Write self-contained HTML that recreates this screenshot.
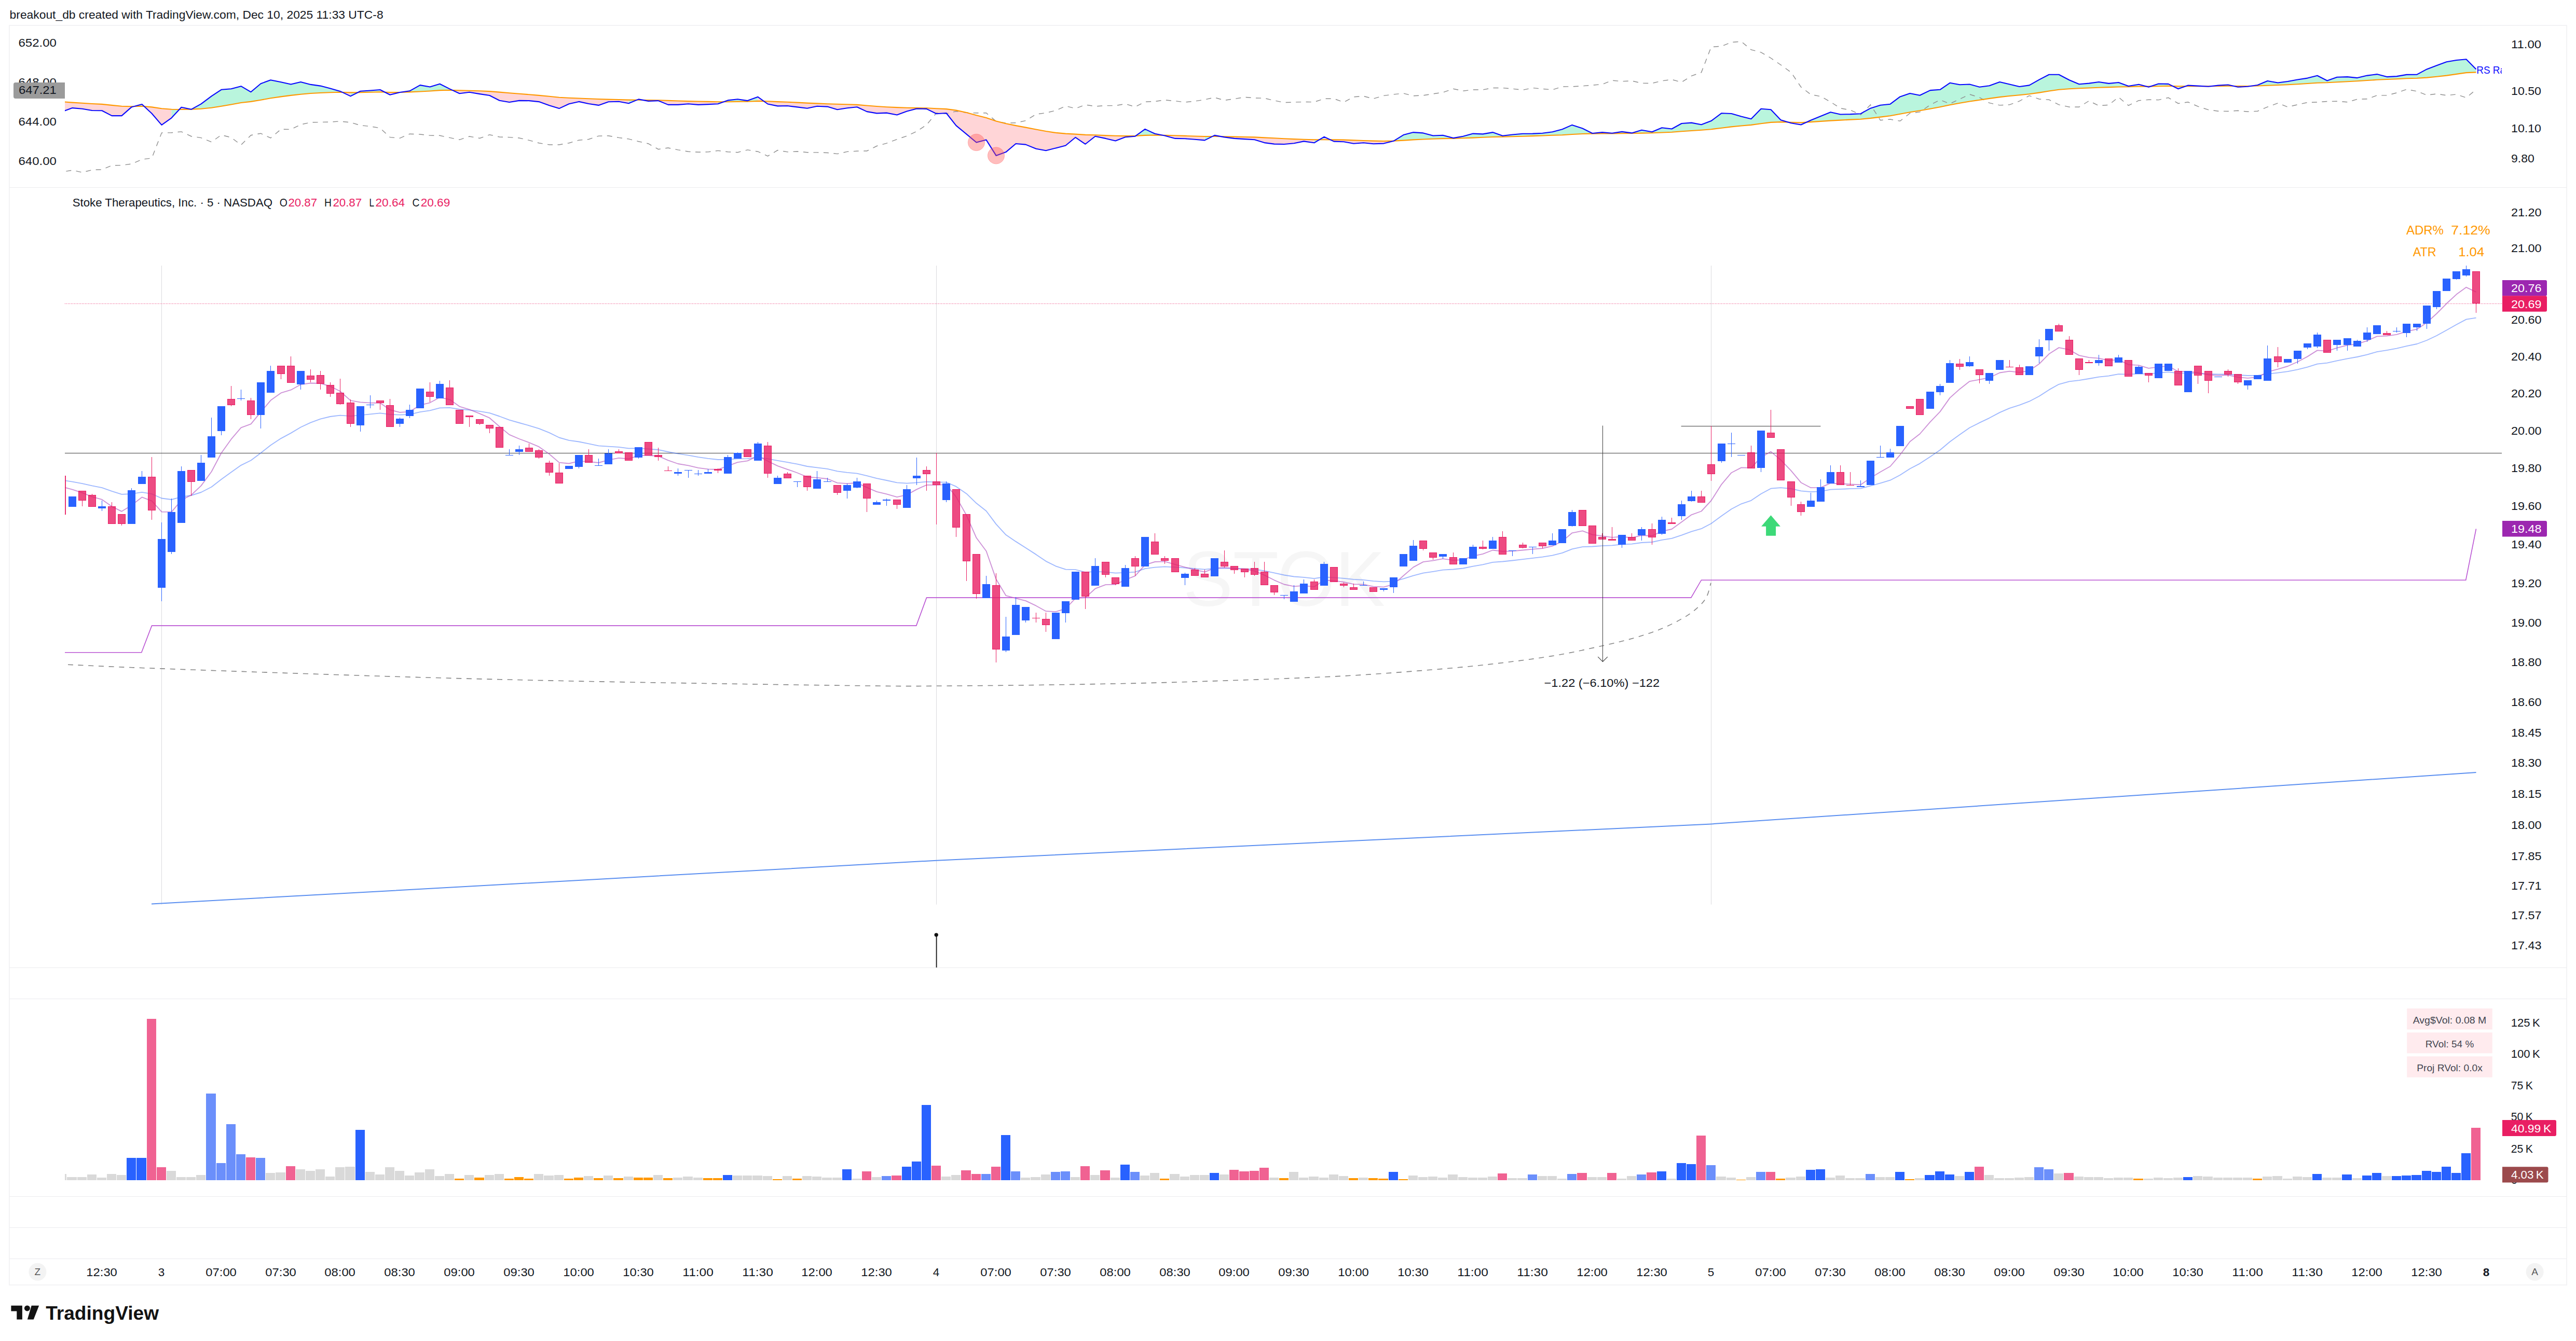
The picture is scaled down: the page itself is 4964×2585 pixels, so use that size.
<!DOCTYPE html>
<html><head><meta charset="utf-8"><title>STOK chart</title>
<style>html,body{margin:0;padding:0;background:#fff}body{width:4964px;height:2585px}svg{display:block}</style>
</head><body>
<svg width="4964" height="2585" viewBox="0 0 4964 2585" font-family='"Liberation Sans", sans-serif'>
<rect width="4964" height="2585" fill="#fff"/>
<defs><clipPath id="cp"><rect x="125" y="49" width="4696" height="2428"/></clipPath></defs>
<text x="18.6" y="36.2" font-size="22" fill="#131722" text-anchor="start" textLength="720.0" lengthAdjust="spacingAndGlyphs">breakout_db created with TradingView.com, Dec 10, 2025 11:33 UTC-8</text>
<rect x="18" y="49" width="4928" height="2428" fill="none" stroke="#f3f3f5" stroke-width="2"/>
<line x1="18" y1="361.5" x2="4946" y2="361.5" stroke="#ebebee" stroke-width="1"/>
<line x1="18" y1="1865.5" x2="4946" y2="1865.5" stroke="#ebebee" stroke-width="1"/>
<line x1="18" y1="1925.5" x2="4946" y2="1925.5" stroke="#ebebee" stroke-width="1"/>
<line x1="18" y1="2306.5" x2="4946" y2="2306.5" stroke="#ebebee" stroke-width="1"/>
<line x1="18" y1="2366.5" x2="4946" y2="2366.5" stroke="#ebebee" stroke-width="1"/>
<line x1="18" y1="2426.5" x2="4946" y2="2426.5" stroke="#ebebee" stroke-width="1"/>
<g clip-path="url(#cp)">
<polygon points="119.5,215.5 139.5,208.1 158.5,209.7 177.5,213.0 196.5,213.2 215.5,223.1 234.5,223.1 253.5,206.4 253.5,205.2 234.5,204.8 215.5,202.9 196.5,200.9 177.5,200.0 158.5,198.8 139.5,197.6 119.5,196.1" fill="#ffd5d7"/>
<polygon points="253.5,206.4 273.5,201.1 273.5,204.8 253.5,205.2" fill="#b9f5dd"/>
<polygon points="273.5,201.1 292.5,218.8 311.5,240.9 330.5,227.3 330.5,210.8 311.5,209.3 292.5,206.4 273.5,204.8" fill="#ffd5d7"/>
<polygon points="330.5,227.3 349.5,206.8 349.5,211.0 330.5,210.8" fill="#b9f5dd"/>
<polygon points="349.5,206.8 368.5,210.8 368.5,210.6 349.5,211.0" fill="#ffd5d7"/>
<polygon points="368.5,210.8 387.5,200.3 407.5,185.4 426.5,172.8 445.5,171.2 464.5,166.2 483.5,177.3 502.5,161.3 521.5,154.2 541.5,158.2 560.5,162.5 579.5,158.0 598.5,162.9 617.5,165.6 636.5,170.5 655.5,175.9 655.5,177.8 636.5,178.2 617.5,179.0 598.5,180.0 579.5,181.7 560.5,183.9 541.5,186.4 521.5,189.3 502.5,192.8 483.5,195.9 464.5,198.0 445.5,201.5 426.5,204.8 407.5,207.7 387.5,209.7 368.5,210.6" fill="#b9f5dd"/>
<polygon points="655.5,175.9 675.5,185.4 675.5,178.4 655.5,177.8" fill="#ffd5d7"/>
<polygon points="675.5,185.4 694.5,175.7 713.5,174.5 732.5,173.0 732.5,177.3 713.5,177.8 694.5,178.2 675.5,178.4" fill="#b9f5dd"/>
<polygon points="732.5,173.0 751.5,182.7 770.5,178.0 770.5,178.0 751.5,178.0 732.5,177.3" fill="#ffd5d7"/>
<polygon points="770.5,178.0 789.5,175.3 809.5,164.1 828.5,167.5 847.5,161.7 866.5,171.4 866.5,173.8 847.5,174.1 828.5,175.5 809.5,176.5 789.5,177.4 770.5,178.0" fill="#b9f5dd"/>
<polygon points="866.5,171.4 885.5,180.2 904.5,177.8 924.5,181.1 943.5,184.0 962.5,193.8 981.5,197.0 1000.5,193.9 1019.5,194.1 1038.5,196.1 1058.5,203.3 1077.5,209.1 1096.5,200.3 1115.5,195.9 1134.5,200.0 1153.5,202.9 1172.5,196.3 1192.5,195.7 1211.5,199.2 1211.5,192.6 1192.5,192.0 1172.5,191.6 1153.5,191.0 1134.5,190.3 1115.5,189.5 1096.5,188.7 1077.5,187.7 1058.5,185.8 1038.5,183.9 1019.5,182.3 1000.5,180.7 981.5,179.2 962.5,177.6 943.5,176.1 924.5,175.3 904.5,174.7 885.5,174.3 866.5,173.8" fill="#ffd5d7"/>
<polygon points="1211.5,199.2 1230.5,191.4 1230.5,192.8 1211.5,192.6" fill="#b9f5dd"/>
<polygon points="1230.5,191.4 1249.5,194.9 1268.5,194.1 1287.5,201.9 1306.5,201.9 1326.5,200.2 1345.5,201.9 1364.5,201.1 1383.5,200.3 1383.5,196.3 1364.5,195.9 1345.5,195.5 1326.5,195.1 1306.5,194.5 1287.5,193.9 1268.5,193.2 1249.5,193.0 1230.5,192.8" fill="#ffd5d7"/>
<polygon points="1383.5,200.3 1402.5,193.4 1421.5,191.2 1440.5,194.1 1460.5,186.8 1460.5,194.9 1440.5,195.7 1421.5,195.9 1402.5,196.3 1383.5,196.3" fill="#b9f5dd"/>
<polygon points="1460.5,186.8 1479.5,200.5 1498.5,204.4 1517.5,204.0 1536.5,206.4 1555.5,208.7 1574.5,204.8 1594.5,205.6 1613.5,211.2 1632.5,208.3 1651.5,206.2 1670.5,215.1 1689.5,218.4 1708.5,217.6 1728.5,221.5 1747.5,214.5 1766.5,209.5 1785.5,209.9 1804.5,219.2 1823.5,218.0 1842.5,242.1 1862.5,258.6 1881.5,274.5 1900.5,269.6 1919.5,299.9 1938.5,293.1 1957.5,277.0 1976.5,278.6 1996.5,286.7 2015.5,290.2 2034.5,285.4 2053.5,280.5 2072.5,264.8 2091.5,277.8 2110.5,262.7 2130.5,266.9 2149.5,271.4 2168.5,264.2 2187.5,262.7 2187.5,261.9 2168.5,262.1 2149.5,261.7 2130.5,261.1 2110.5,260.3 2091.5,259.9 2072.5,258.6 2053.5,257.6 2034.5,255.9 2015.5,253.0 1996.5,249.5 1976.5,245.6 1957.5,242.1 1938.5,238.2 1919.5,233.5 1900.5,226.9 1881.5,222.3 1862.5,217.0 1842.5,212.6 1823.5,210.1 1804.5,209.3 1785.5,208.3 1766.5,208.1 1747.5,207.7 1728.5,207.1 1708.5,206.2 1689.5,205.0 1670.5,203.5 1651.5,201.9 1632.5,201.3 1613.5,200.7 1594.5,200.2 1574.5,199.4 1555.5,198.6 1536.5,197.6 1517.5,196.7 1498.5,196.1 1479.5,195.3 1460.5,194.9" fill="#ffd5d7"/>
<polygon points="2187.5,262.7 2206.5,248.9 2225.5,257.8 2225.5,260.5 2206.5,260.9 2187.5,261.9" fill="#b9f5dd"/>
<polygon points="2225.5,257.8 2244.5,261.5 2264.5,266.9 2283.5,267.3 2302.5,268.7 2321.5,270.4 2321.5,263.0 2302.5,262.5 2283.5,261.9 2264.5,261.3 2244.5,260.7 2225.5,260.5" fill="#ffd5d7"/>
<polygon points="2321.5,270.4 2340.5,260.9 2340.5,263.0 2321.5,263.0" fill="#b9f5dd"/>
<polygon points="2340.5,260.9 2359.5,264.4 2378.5,266.9 2398.5,268.1 2417.5,269.3 2436.5,275.1 2455.5,277.6 2474.5,278.0 2493.5,276.2 2512.5,272.4 2532.5,275.3 2532.5,269.3 2512.5,268.7 2493.5,268.1 2474.5,267.3 2455.5,266.3 2436.5,265.4 2417.5,264.4 2398.5,264.0 2378.5,263.6 2359.5,263.2 2340.5,263.0" fill="#ffd5d7"/>
<polygon points="2532.5,275.3 2551.5,263.8 2551.5,269.3 2532.5,269.3" fill="#b9f5dd"/>
<polygon points="2551.5,263.8 2570.5,272.6 2589.5,273.3 2608.5,276.8 2627.5,275.3 2646.5,277.2 2666.5,276.6 2685.5,271.8 2685.5,271.6 2666.5,272.0 2646.5,271.6 2627.5,271.0 2608.5,270.4 2589.5,269.6 2570.5,269.4 2551.5,269.3" fill="#ffd5d7"/>
<polygon points="2685.5,271.8 2704.5,260.1 2723.5,255.1 2742.5,256.4 2761.5,261.5 2780.5,260.7 2800.5,266.1 2819.5,262.7 2838.5,257.6 2857.5,258.4 2876.5,255.1 2895.5,261.7 2914.5,259.5 2934.5,257.8 2953.5,257.6 2972.5,256.8 2991.5,254.3 3010.5,249.2 3029.5,240.9 3049.5,247.5 3068.5,257.0 3087.5,255.1 3106.5,256.8 3125.5,253.9 3144.5,256.4 3163.5,250.8 3183.5,254.3 3202.5,246.3 3221.5,248.5 3240.5,238.0 3259.5,236.6 3278.5,240.3 3297.5,233.1 3317.5,218.2 3336.5,219.0 3355.5,224.6 3374.5,229.3 3393.5,209.7 3412.5,211.2 3431.5,231.2 3431.5,235.1 3412.5,235.9 3393.5,238.2 3374.5,240.9 3355.5,242.5 3336.5,244.4 3317.5,246.7 3297.5,249.2 3278.5,250.8 3259.5,252.0 3240.5,253.3 3221.5,254.7 3202.5,255.5 3183.5,256.2 3163.5,256.6 3144.5,257.0 3125.5,257.2 3106.5,257.4 3087.5,257.4 3068.5,257.6 3049.5,258.0 3029.5,259.0 3010.5,260.3 2991.5,260.7 2972.5,261.5 2953.5,262.1 2934.5,262.7 2914.5,263.2 2895.5,263.6 2876.5,264.0 2857.5,264.8 2838.5,265.6 2819.5,266.3 2800.5,266.9 2780.5,267.1 2761.5,267.7 2742.5,268.5 2723.5,269.4 2704.5,270.6 2685.5,271.6" fill="#b9f5dd"/>
<polygon points="3431.5,231.2 3451.5,237.2 3470.5,240.5 3470.5,236.2 3451.5,235.7 3431.5,235.1" fill="#ffd5d7"/>
<polygon points="3470.5,240.5 3489.5,231.8 3508.5,224.0 3527.5,216.3 3546.5,220.5 3565.5,220.1 3585.5,219.2 3604.5,208.7 3623.5,202.7 3642.5,200.7 3661.5,186.4 3680.5,180.0 3699.5,183.8 3719.5,174.1 3738.5,172.8 3757.5,159.8 3776.5,163.3 3795.5,162.5 3814.5,167.7 3833.5,165.2 3853.5,158.0 3872.5,162.5 3891.5,167.0 3910.5,164.4 3929.5,153.6 3948.5,143.7 3967.5,143.7 3987.5,154.3 4006.5,162.3 4025.5,160.6 4044.5,158.0 4063.5,160.9 4082.5,159.0 4101.5,166.0 4121.5,162.7 4121.5,166.8 4101.5,167.2 4082.5,167.5 4063.5,168.1 4044.5,168.7 4025.5,169.5 4006.5,170.3 3987.5,171.2 3967.5,172.8 3948.5,175.5 3929.5,178.6 3910.5,181.3 3891.5,183.3 3872.5,185.0 3853.5,187.1 3833.5,189.9 3814.5,192.8 3795.5,195.5 3776.5,198.8 3757.5,202.3 3738.5,206.2 3719.5,209.7 3699.5,213.3 3680.5,216.3 3661.5,219.8 3642.5,223.2 3623.5,225.6 3604.5,227.9 3585.5,229.7 3565.5,230.6 3546.5,231.6 3527.5,232.6 3508.5,233.9 3489.5,235.1 3470.5,236.2" fill="#b9f5dd"/>
<polygon points="4121.5,162.7 4140.5,167.7 4140.5,166.6 4121.5,166.8" fill="#ffd5d7"/>
<polygon points="4140.5,167.7 4159.5,161.5 4178.5,161.9 4178.5,165.8 4159.5,166.2 4140.5,166.6" fill="#b9f5dd"/>
<polygon points="4178.5,161.9 4197.5,171.2 4197.5,166.2 4178.5,165.8" fill="#ffd5d7"/>
<polygon points="4197.5,171.2 4216.5,164.6 4235.5,165.6 4235.5,166.2 4216.5,166.2 4197.5,166.2" fill="#b9f5dd"/>
<polygon points="4235.5,165.6 4255.5,166.8 4255.5,166.2 4235.5,166.2" fill="#ffd5d7"/>
<polygon points="4255.5,166.8 4274.5,164.6 4293.5,163.5 4293.5,165.8 4274.5,166.0 4255.5,166.2" fill="#b9f5dd"/>
<polygon points="4293.5,163.5 4312.5,167.7 4331.5,166.8 4331.5,166.0 4312.5,166.0 4293.5,165.8" fill="#ffd5d7"/>
<polygon points="4331.5,166.8 4350.5,164.0 4369.5,156.0 4389.5,159.5 4408.5,157.0 4427.5,153.5 4446.5,150.6 4465.5,145.8 4484.5,155.5 4503.5,148.8 4523.5,148.1 4542.5,150.1 4561.5,145.6 4580.5,143.1 4599.5,148.1 4618.5,147.1 4637.5,143.9 4657.5,143.6 4676.5,133.4 4695.5,126.2 4714.5,119.3 4733.5,116.0 4752.5,114.3 4771.5,133.4 4771.5,139.4 4752.5,140.1 4733.5,142.9 4714.5,145.6 4695.5,147.8 4676.5,149.6 4657.5,150.8 4637.5,151.3 4618.5,152.3 4599.5,153.0 4580.5,153.8 4561.5,155.0 4542.5,156.3 4523.5,157.3 4503.5,158.3 4484.5,159.3 4465.5,159.8 4446.5,161.0 4427.5,162.2 4408.5,163.2 4389.5,164.0 4369.5,164.7 4350.5,165.5 4331.5,166.0" fill="#b9f5dd"/>
<polyline points="119.5,331.4 139.5,328.1 158.5,332.3 177.5,327.5 196.5,326.9 215.5,318.9 234.5,318.6 253.5,316.0 273.5,307.3 292.5,304.8 311.5,256.1 330.5,255.7 349.5,253.9 368.5,262.7 387.5,265.6 407.5,273.7 426.5,260.1 445.5,265.0 464.5,279.5 483.5,260.7 502.5,257.2 521.5,266.0 541.5,249.1 560.5,249.5 579.5,240.1 598.5,235.9 617.5,235.5 636.5,235.1 655.5,233.9 675.5,235.9 694.5,241.7 713.5,243.6 732.5,246.9 751.5,264.6 770.5,266.3 789.5,258.2 809.5,259.0 828.5,261.1 847.5,261.3 866.5,265.4 885.5,269.3 904.5,263.0 924.5,266.5 943.5,259.7 962.5,264.0 981.5,264.6 1000.5,266.0 1019.5,270.4 1038.5,275.7 1058.5,279.0 1077.5,279.0 1096.5,275.7 1115.5,270.2 1134.5,268.5 1153.5,262.1 1172.5,261.7 1192.5,265.4 1211.5,267.9 1230.5,272.7 1249.5,277.0 1268.5,287.7 1287.5,285.0 1306.5,288.9 1326.5,292.2 1345.5,293.3 1364.5,292.9 1383.5,290.4 1402.5,292.7 1421.5,293.7 1440.5,288.9 1460.5,292.2 1479.5,300.9 1498.5,289.6 1517.5,292.9 1536.5,292.0 1555.5,293.7 1574.5,293.9 1594.5,294.5 1613.5,296.6 1632.5,292.4 1651.5,291.2 1670.5,291.0 1689.5,281.5 1708.5,276.2 1728.5,268.5 1747.5,262.1 1766.5,253.3 1785.5,240.7 1804.5,217.8 1823.5,219.2 1842.5,214.5 1862.5,217.2 1881.5,217.8 1900.5,217.8 1919.5,233.9 1938.5,237.2 1957.5,236.8 1976.5,232.6 1996.5,220.3 2015.5,217.6 2034.5,213.0 2053.5,204.4 2072.5,209.1 2091.5,201.9 2110.5,205.0 2130.5,203.6 2149.5,203.6 2168.5,200.2 2187.5,206.0 2206.5,196.3 2225.5,195.5 2244.5,192.8 2264.5,194.7 2283.5,197.0 2302.5,195.1 2321.5,192.0 2340.5,187.9 2359.5,193.4 2378.5,190.6 2398.5,187.3 2417.5,188.9 2436.5,189.3 2455.5,193.8 2474.5,197.6 2493.5,197.0 2512.5,196.5 2532.5,196.7 2551.5,190.3 2570.5,190.3 2589.5,197.0 2608.5,186.8 2627.5,185.4 2646.5,190.3 2666.5,184.4 2685.5,181.9 2704.5,180.0 2723.5,184.8 2742.5,183.9 2761.5,180.9 2780.5,178.2 2800.5,171.2 2819.5,175.3 2838.5,173.0 2857.5,173.0 2876.5,169.5 2895.5,169.5 2914.5,171.2 2934.5,173.4 2953.5,169.5 2972.5,171.4 2991.5,173.0 3010.5,167.1 3029.5,166.8 3049.5,165.8 3068.5,164.2 3087.5,162.5 3106.5,155.1 3125.5,156.7 3144.5,155.9 3163.5,160.3 3183.5,160.5 3202.5,155.9 3221.5,153.4 3240.5,158.4 3259.5,146.4 3278.5,139.6 3297.5,90.5 3317.5,89.1 3336.5,81.4 3355.5,80.0 3374.5,95.9 3393.5,100.8 3412.5,112.0 3431.5,125.0 3451.5,139.6 3470.5,167.7 3489.5,182.3 3508.5,185.8 3527.5,196.5 3546.5,208.7 3565.5,212.0 3585.5,221.3 3604.5,201.9 3623.5,231.8 3642.5,230.0 3661.5,233.3 3680.5,218.2 3699.5,215.9 3719.5,202.3 3738.5,192.6 3757.5,200.0 3776.5,191.0 3795.5,181.9 3814.5,187.9 3833.5,198.4 3853.5,202.9 3872.5,201.9 3891.5,194.9 3910.5,184.4 3929.5,191.0 3948.5,192.2 3967.5,201.9 3987.5,206.2 4006.5,206.2 4025.5,194.5 4044.5,203.8 4063.5,202.3 4082.5,187.3 4101.5,203.3 4121.5,193.7 4140.5,192.2 4159.5,192.6 4178.5,188.3 4197.5,199.4 4216.5,196.8 4235.5,205.2 4255.5,211.6 4274.5,214.3 4293.5,214.5 4312.5,213.3 4331.5,215.3 4350.5,214.2 4369.5,206.2 4389.5,198.8 4408.5,206.2 4427.5,201.7 4446.5,197.5 4465.5,197.0 4484.5,195.5 4503.5,195.3 4523.5,196.8 4542.5,191.3 4561.5,190.8 4580.5,183.9 4599.5,183.9 4618.5,178.9 4637.5,172.2 4657.5,175.9 4676.5,183.4 4695.5,180.9 4714.5,183.9 4733.5,181.9 4752.5,188.3 4771.5,172.7" fill="none" stroke="#8e8e8e" stroke-width="1.4" stroke-dasharray="10 9.5" stroke-dashoffset="-8"/>
<polyline points="119.5,196.1 139.5,197.6 158.5,198.8 177.5,200.0 196.5,200.9 215.5,202.9 234.5,204.8 253.5,205.2 273.5,204.8 292.5,206.4 311.5,209.3 330.5,210.8 349.5,211.0 368.5,210.6 387.5,209.7 407.5,207.7 426.5,204.8 445.5,201.5 464.5,198.0 483.5,195.9 502.5,192.8 521.5,189.3 541.5,186.4 560.5,183.9 579.5,181.7 598.5,180.0 617.5,179.0 636.5,178.2 655.5,177.8 675.5,178.4 694.5,178.2 713.5,177.8 732.5,177.3 751.5,178.0 770.5,178.0 789.5,177.4 809.5,176.5 828.5,175.5 847.5,174.1 866.5,173.8 885.5,174.3 904.5,174.7 924.5,175.3 943.5,176.1 962.5,177.6 981.5,179.2 1000.5,180.7 1019.5,182.3 1038.5,183.9 1058.5,185.8 1077.5,187.7 1096.5,188.7 1115.5,189.5 1134.5,190.3 1153.5,191.0 1172.5,191.6 1192.5,192.0 1211.5,192.6 1230.5,192.8 1249.5,193.0 1268.5,193.2 1287.5,193.9 1306.5,194.5 1326.5,195.1 1345.5,195.5 1364.5,195.9 1383.5,196.3 1402.5,196.3 1421.5,195.9 1440.5,195.7 1460.5,194.9 1479.5,195.3 1498.5,196.1 1517.5,196.7 1536.5,197.6 1555.5,198.6 1574.5,199.4 1594.5,200.2 1613.5,200.7 1632.5,201.3 1651.5,201.9 1670.5,203.5 1689.5,205.0 1708.5,206.2 1728.5,207.1 1747.5,207.7 1766.5,208.1 1785.5,208.3 1804.5,209.3 1823.5,210.1 1842.5,212.6 1862.5,217.0 1881.5,222.3 1900.5,226.9 1919.5,233.5 1938.5,238.2 1957.5,242.1 1976.5,245.6 1996.5,249.5 2015.5,253.0 2034.5,255.9 2053.5,257.6 2072.5,258.6 2091.5,259.9 2110.5,260.3 2130.5,261.1 2149.5,261.7 2168.5,262.1 2187.5,261.9 2206.5,260.9 2225.5,260.5 2244.5,260.7 2264.5,261.3 2283.5,261.9 2302.5,262.5 2321.5,263.0 2340.5,263.0 2359.5,263.2 2378.5,263.6 2398.5,264.0 2417.5,264.4 2436.5,265.4 2455.5,266.3 2474.5,267.3 2493.5,268.1 2512.5,268.7 2532.5,269.3 2551.5,269.3 2570.5,269.4 2589.5,269.6 2608.5,270.4 2627.5,271.0 2646.5,271.6 2666.5,272.0 2685.5,271.6 2704.5,270.6 2723.5,269.4 2742.5,268.5 2761.5,267.7 2780.5,267.1 2800.5,266.9 2819.5,266.3 2838.5,265.6 2857.5,264.8 2876.5,264.0 2895.5,263.6 2914.5,263.2 2934.5,262.7 2953.5,262.1 2972.5,261.5 2991.5,260.7 3010.5,260.3 3029.5,259.0 3049.5,258.0 3068.5,257.6 3087.5,257.4 3106.5,257.4 3125.5,257.2 3144.5,257.0 3163.5,256.6 3183.5,256.2 3202.5,255.5 3221.5,254.7 3240.5,253.3 3259.5,252.0 3278.5,250.8 3297.5,249.2 3317.5,246.7 3336.5,244.4 3355.5,242.5 3374.5,240.9 3393.5,238.2 3412.5,235.9 3431.5,235.1 3451.5,235.7 3470.5,236.2 3489.5,235.1 3508.5,233.9 3527.5,232.6 3546.5,231.6 3565.5,230.6 3585.5,229.7 3604.5,227.9 3623.5,225.6 3642.5,223.2 3661.5,219.8 3680.5,216.3 3699.5,213.3 3719.5,209.7 3738.5,206.2 3757.5,202.3 3776.5,198.8 3795.5,195.5 3814.5,192.8 3833.5,189.9 3853.5,187.1 3872.5,185.0 3891.5,183.3 3910.5,181.3 3929.5,178.6 3948.5,175.5 3967.5,172.8 3987.5,171.2 4006.5,170.3 4025.5,169.5 4044.5,168.7 4063.5,168.1 4082.5,167.5 4101.5,167.2 4121.5,166.8 4140.5,166.6 4159.5,166.2 4178.5,165.8 4197.5,166.2 4216.5,166.2 4235.5,166.2 4255.5,166.2 4274.5,166.0 4293.5,165.8 4312.5,166.0 4331.5,166.0 4350.5,165.5 4369.5,164.7 4389.5,164.0 4408.5,163.2 4427.5,162.2 4446.5,161.0 4465.5,159.8 4484.5,159.3 4503.5,158.3 4523.5,157.3 4542.5,156.3 4561.5,155.0 4580.5,153.8 4599.5,153.0 4618.5,152.3 4637.5,151.3 4657.5,150.8 4676.5,149.6 4695.5,147.8 4714.5,145.6 4733.5,142.9 4752.5,140.1 4771.5,139.4" fill="none" stroke="#ff9800" stroke-width="2.1" stroke-linejoin="round"/>
<polyline points="119.5,215.5 139.5,208.1 158.5,209.7 177.5,213.0 196.5,213.2 215.5,223.1 234.5,223.1 253.5,206.4 273.5,201.1 292.5,218.8 311.5,240.9 330.5,227.3 349.5,206.8 368.5,210.8 387.5,200.3 407.5,185.4 426.5,172.8 445.5,171.2 464.5,166.2 483.5,177.3 502.5,161.3 521.5,154.2 541.5,158.2 560.5,162.5 579.5,158.0 598.5,162.9 617.5,165.6 636.5,170.5 655.5,175.9 675.5,185.4 694.5,175.7 713.5,174.5 732.5,173.0 751.5,182.7 770.5,178.0 789.5,175.3 809.5,164.1 828.5,167.5 847.5,161.7 866.5,171.4 885.5,180.2 904.5,177.8 924.5,181.1 943.5,184.0 962.5,193.8 981.5,197.0 1000.5,193.9 1019.5,194.1 1038.5,196.1 1058.5,203.3 1077.5,209.1 1096.5,200.3 1115.5,195.9 1134.5,200.0 1153.5,202.9 1172.5,196.3 1192.5,195.7 1211.5,199.2 1230.5,191.4 1249.5,194.9 1268.5,194.1 1287.5,201.9 1306.5,201.9 1326.5,200.2 1345.5,201.9 1364.5,201.1 1383.5,200.3 1402.5,193.4 1421.5,191.2 1440.5,194.1 1460.5,186.8 1479.5,200.5 1498.5,204.4 1517.5,204.0 1536.5,206.4 1555.5,208.7 1574.5,204.8 1594.5,205.6 1613.5,211.2 1632.5,208.3 1651.5,206.2 1670.5,215.1 1689.5,218.4 1708.5,217.6 1728.5,221.5 1747.5,214.5 1766.5,209.5 1785.5,209.9 1804.5,219.2 1823.5,218.0 1842.5,242.1 1862.5,258.6 1881.5,274.5 1900.5,269.6 1919.5,299.9 1938.5,293.1 1957.5,277.0 1976.5,278.6 1996.5,286.7 2015.5,290.2 2034.5,285.4 2053.5,280.5 2072.5,264.8 2091.5,277.8 2110.5,262.7 2130.5,266.9 2149.5,271.4 2168.5,264.2 2187.5,262.7 2206.5,248.9 2225.5,257.8 2244.5,261.5 2264.5,266.9 2283.5,267.3 2302.5,268.7 2321.5,270.4 2340.5,260.9 2359.5,264.4 2378.5,266.9 2398.5,268.1 2417.5,269.3 2436.5,275.1 2455.5,277.6 2474.5,278.0 2493.5,276.2 2512.5,272.4 2532.5,275.3 2551.5,263.8 2570.5,272.6 2589.5,273.3 2608.5,276.8 2627.5,275.3 2646.5,277.2 2666.5,276.6 2685.5,271.8 2704.5,260.1 2723.5,255.1 2742.5,256.4 2761.5,261.5 2780.5,260.7 2800.5,266.1 2819.5,262.7 2838.5,257.6 2857.5,258.4 2876.5,255.1 2895.5,261.7 2914.5,259.5 2934.5,257.8 2953.5,257.6 2972.5,256.8 2991.5,254.3 3010.5,249.2 3029.5,240.9 3049.5,247.5 3068.5,257.0 3087.5,255.1 3106.5,256.8 3125.5,253.9 3144.5,256.4 3163.5,250.8 3183.5,254.3 3202.5,246.3 3221.5,248.5 3240.5,238.0 3259.5,236.6 3278.5,240.3 3297.5,233.1 3317.5,218.2 3336.5,219.0 3355.5,224.6 3374.5,229.3 3393.5,209.7 3412.5,211.2 3431.5,231.2 3451.5,237.2 3470.5,240.5 3489.5,231.8 3508.5,224.0 3527.5,216.3 3546.5,220.5 3565.5,220.1 3585.5,219.2 3604.5,208.7 3623.5,202.7 3642.5,200.7 3661.5,186.4 3680.5,180.0 3699.5,183.8 3719.5,174.1 3738.5,172.8 3757.5,159.8 3776.5,163.3 3795.5,162.5 3814.5,167.7 3833.5,165.2 3853.5,158.0 3872.5,162.5 3891.5,167.0 3910.5,164.4 3929.5,153.6 3948.5,143.7 3967.5,143.7 3987.5,154.3 4006.5,162.3 4025.5,160.6 4044.5,158.0 4063.5,160.9 4082.5,159.0 4101.5,166.0 4121.5,162.7 4140.5,167.7 4159.5,161.5 4178.5,161.9 4197.5,171.2 4216.5,164.6 4235.5,165.6 4255.5,166.8 4274.5,164.6 4293.5,163.5 4312.5,167.7 4331.5,166.8 4350.5,164.0 4369.5,156.0 4389.5,159.5 4408.5,157.0 4427.5,153.5 4446.5,150.6 4465.5,145.8 4484.5,155.5 4503.5,148.8 4523.5,148.1 4542.5,150.1 4561.5,145.6 4580.5,143.1 4599.5,148.1 4618.5,147.1 4637.5,143.9 4657.5,143.6 4676.5,133.4 4695.5,126.2 4714.5,119.3 4733.5,116.0 4752.5,114.3 4771.5,133.4" fill="none" stroke="#0808ff" stroke-width="2.1" stroke-linejoin="round"/>
<circle cx="1881.5" cy="274.5" r="16.2" fill="#ff5252" fill-opacity="0.38" stroke="#ff5252" stroke-opacity="0.3" stroke-width="1"/>
<circle cx="1919.5" cy="299.9" r="16.2" fill="#ff5252" fill-opacity="0.38" stroke="#ff5252" stroke-opacity="0.3" stroke-width="1"/>
<text x="4772.3" y="141.8" font-size="21" fill="#1010ff" text-anchor="start" textLength="55.8" lengthAdjust="spacingAndGlyphs">RS Ra</text>
</g>
<text x="35.5" y="90.1" font-size="22.5" fill="#131722" text-anchor="start" textLength="73.3" lengthAdjust="spacingAndGlyphs">652.00</text>
<text x="35.5" y="165.9" font-size="22.5" fill="#131722" text-anchor="start" textLength="73.3" lengthAdjust="spacingAndGlyphs">648.00</text>
<text x="35.5" y="241.9" font-size="22.5" fill="#131722" text-anchor="start" textLength="73.3" lengthAdjust="spacingAndGlyphs">644.00</text>
<text x="35.5" y="317.7" font-size="22.5" fill="#131722" text-anchor="start" textLength="73.3" lengthAdjust="spacingAndGlyphs">640.00</text>
<path d="M30,159 H125 V190 H30 a4,4 0 0 1 -4,-4 V163 a4,4 0 0 1 4,-4 z" fill="#9b9b9b"/>
<text x="36.0" y="181.4" font-size="22.5" fill="#131722" text-anchor="start" textLength="72.8" lengthAdjust="spacingAndGlyphs">647.21</text>
<text x="4839.0" y="93.0" font-size="22.5" fill="#131722" text-anchor="start" textLength="58.0" lengthAdjust="spacingAndGlyphs">11.00</text>
<text x="4839.0" y="182.5" font-size="22.5" fill="#131722" text-anchor="start" textLength="58.0" lengthAdjust="spacingAndGlyphs">10.50</text>
<text x="4839.0" y="255.0" font-size="22.5" fill="#131722" text-anchor="start" textLength="58.0" lengthAdjust="spacingAndGlyphs">10.10</text>
<text x="4839.0" y="313.3" font-size="22.5" fill="#131722" text-anchor="start" textLength="44.7" lengthAdjust="spacingAndGlyphs">9.80</text>
<g clip-path="url(#cp)">
<text x="2280.0" y="1168.0" font-size="150" fill="#f6f6f6" text-anchor="start" textLength="389.0" lengthAdjust="spacingAndGlyphs">STOK</text>
<line x1="311.5" y1="512" x2="311.5" y2="1743.6" stroke="#dadade" stroke-width="1"/>
<line x1="1804.5" y1="512" x2="1804.5" y2="1743.6" stroke="#dadade" stroke-width="1"/>
<line x1="3297.5" y1="512" x2="3297.5" y2="1743.6" stroke="#dadade" stroke-width="1"/>
<line x1="125" y1="585.5" x2="4821" y2="585.5" stroke="#e91e63" stroke-width="1" stroke-dasharray="1 2"/>
<line x1="125" y1="873.5" x2="4821" y2="873.5" stroke="#3a3a3a" stroke-width="1"/>
<line x1="3239.6" y1="821.5" x2="3508.4" y2="821.5" stroke="#3a3a3a" stroke-width="1"/>
<polyline points="119.5,925.6 139.5,928.6 158.5,932.1 177.5,936.4 196.5,940.2 215.5,946.8 234.5,952.8 253.5,952.0 273.5,948.9 292.5,952.2 311.5,960.5 330.5,963.0 349.5,957.8 368.5,955.0 387.5,949.0 407.5,938.8 426.5,923.9 445.5,910.3 464.5,896.8 483.5,887.5 502.5,873.2 521.5,858.2 541.5,845.1 560.5,834.9 579.5,823.5 598.5,814.7 617.5,807.6 636.5,803.0 655.5,800.6 675.5,802.2 694.5,800.4 713.5,798.4 732.5,796.4 751.5,798.9 770.5,799.7 789.5,798.8 809.5,794.1 828.5,791.3 847.5,786.4 866.5,785.9 885.5,788.9 904.5,790.3 924.5,792.9 943.5,796.1 962.5,802.5 981.5,809.6 1000.5,815.0 1019.5,820.3 1038.5,826.1 1058.5,834.2 1077.5,843.5 1096.5,848.8 1115.5,851.5 1134.5,855.4 1153.5,859.3 1172.5,860.7 1192.5,861.9 1211.5,864.4 1230.5,864.2 1249.5,865.5 1268.5,867.0 1287.5,871.0 1306.5,874.7 1326.5,877.7 1345.5,881.1 1364.5,883.9 1383.5,886.0 1402.5,885.6 1421.5,884.4 1440.5,884.1 1460.5,881.4 1479.5,884.4 1498.5,887.9 1517.5,891.2 1536.5,894.7 1555.5,899.0 1574.5,901.4 1594.5,903.9 1613.5,908.3 1632.5,910.9 1651.5,912.6 1670.5,917.2 1689.5,922.1 1708.5,926.0 1728.5,930.4 1747.5,931.7 1766.5,930.3 1785.5,928.7 1804.5,929.3 1823.5,929.6 1842.5,937.9 1862.5,951.7 1881.5,970.1 1900.5,985.0 1919.5,1010.4 1938.5,1031.1 1957.5,1043.9 1976.5,1056.0 1996.5,1068.9 2015.5,1081.8 2034.5,1091.3 2053.5,1097.7 2072.5,1098.2 2091.5,1103.1 2110.5,1101.9 2130.5,1102.6 2149.5,1104.7 2168.5,1103.8 2187.5,1102.7 2206.5,1096.2 2225.5,1093.6 2244.5,1092.4 2264.5,1093.3 2283.5,1094.6 2302.5,1096.1 2321.5,1097.7 2340.5,1095.7 2359.5,1095.3 2378.5,1095.7 2398.5,1096.3 2417.5,1097.5 2436.5,1100.4 2455.5,1104.4 2474.5,1108.5 2493.5,1111.5 2512.5,1112.8 2532.5,1115.1 2551.5,1112.4 2570.5,1113.3 2589.5,1114.8 2608.5,1116.8 2627.5,1117.9 2646.5,1120.1 2666.5,1121.4 2685.5,1120.6 2704.5,1115.6 2723.5,1109.6 2742.5,1104.6 2761.5,1101.8 2780.5,1098.6 2800.5,1097.5 2819.5,1095.5 2838.5,1091.6 2857.5,1088.3 2876.5,1083.9 2895.5,1082.5 2914.5,1080.5 2934.5,1078.1 2953.5,1075.8 2972.5,1073.6 2991.5,1070.6 3010.5,1065.8 3029.5,1058.3 3049.5,1054.1 3068.5,1053.5 3087.5,1052.2 3106.5,1051.3 3125.5,1049.4 3144.5,1048.7 3163.5,1046.0 3183.5,1045.0 3202.5,1040.9 3221.5,1037.9 3240.5,1031.6 3259.5,1024.6 3278.5,1019.2 3297.5,1009.2 3317.5,994.5 3336.5,981.2 3355.5,971.3 3374.5,964.8 3393.5,952.0 3412.5,941.7 3431.5,940.2 3451.5,942.0 3470.5,946.3 3489.5,948.1 3508.5,947.3 3527.5,943.7 3546.5,942.9 3565.5,942.2 3585.5,941.7 3604.5,936.6 3623.5,931.3 3642.5,925.7 3661.5,915.8 3680.5,903.5 3699.5,893.6 3719.5,880.5 3738.5,867.5 3757.5,851.5 3776.5,837.8 3795.5,824.5 3814.5,814.9 3833.5,805.8 3853.5,795.1 3872.5,786.9 3891.5,780.8 3910.5,773.7 3929.5,763.8 3948.5,751.4 3967.5,740.8 3987.5,735.4 4006.5,733.2 4025.5,730.0 4044.5,726.6 4063.5,724.6 4082.5,721.2 4101.5,721.7 4121.5,720.4 4140.5,720.7 4159.5,718.9 4178.5,717.2 4197.5,719.6 4216.5,719.2 4235.5,719.7 4255.5,721.0 4274.5,721.5 4293.5,721.5 4312.5,723.0 4331.5,724.0 4350.5,723.9 4369.5,720.8 4389.5,718.6 4408.5,716.1 4427.5,712.3 4446.5,707.6 4465.5,701.6 4484.5,699.6 4503.5,695.4 4523.5,691.3 4542.5,688.0 4561.5,683.6 4580.5,678.2 4599.5,675.1 4618.5,671.6 4637.5,667.1 4657.5,663.0 4676.5,656.0 4695.5,647.0 4714.5,636.5 4733.5,625.7 4752.5,615.6 4771.5,612.7" fill="none" stroke="#2962ff" stroke-opacity="0.45" stroke-width="1.85" stroke-linejoin="round"/>
<polyline points="119.5,938.3 139.5,943.7 158.5,949.9 177.5,957.6 196.5,962.9 215.5,976.3 234.5,985.8 253.5,974.1 273.5,958.4 292.5,965.6 311.5,986.6 330.5,986.8 349.5,964.3 368.5,954.2 387.5,936.4 407.5,909.2 426.5,873.2 445.5,846.7 464.5,824.3 483.5,817.3 502.5,794.4 521.5,771.8 541.5,757.4 560.5,751.7 579.5,741.2 598.5,738.5 617.5,739.0 636.5,744.6 655.5,754.3 675.5,772.1 694.5,775.3 713.5,776.7 732.5,776.7 751.5,790.0 770.5,794.9 789.5,793.6 809.5,780.9 828.5,776.3 847.5,766.0 866.5,770.1 885.5,783.6 904.5,789.3 924.5,797.4 943.5,805.7 962.5,822.2 981.5,837.9 1000.5,846.0 1019.5,853.1 1038.5,861.2 1058.5,875.3 1077.5,891.6 1096.5,893.5 1115.5,888.9 1134.5,889.9 1153.5,892.0 1172.5,886.7 1192.5,882.9 1211.5,884.5 1230.5,878.1 1249.5,878.0 1268.5,879.0 1287.5,887.4 1306.5,894.0 1326.5,897.4 1345.5,901.9 1364.5,904.3 1383.5,905.0 1402.5,898.2 1421.5,891.1 1440.5,888.3 1460.5,878.9 1479.5,888.8 1498.5,898.1 1517.5,904.8 1536.5,911.5 1555.5,919.5 1574.5,920.8 1594.5,923.0 1613.5,930.8 1632.5,932.1 1651.5,931.0 1670.5,939.7 1689.5,947.9 1708.5,952.3 1728.5,958.1 1747.5,953.9 1766.5,943.4 1785.5,934.9 1804.5,934.8 1823.5,934.1 1842.5,957.9 1862.5,993.4 1881.5,1036.8 1900.5,1062.3 1919.5,1116.6 1938.5,1148.2 1957.5,1153.4 1976.5,1158.1 1996.5,1167.7 2015.5,1178.2 2034.5,1179.1 2053.5,1173.4 2072.5,1153.1 2091.5,1152.1 2110.5,1134.7 2130.5,1127.2 2149.5,1126.7 2168.5,1117.7 2187.5,1110.2 2206.5,1088.8 2225.5,1083.0 2244.5,1082.3 2264.5,1088.1 2283.5,1093.3 2302.5,1098.2 2321.5,1102.6 2340.5,1095.1 2359.5,1094.1 2378.5,1095.6 2398.5,1097.6 2417.5,1100.7 2436.5,1108.6 2455.5,1118.3 2474.5,1126.5 2493.5,1130.4 2512.5,1128.9 2532.5,1131.1 2551.5,1118.6 2570.5,1119.4 2589.5,1122.0 2608.5,1126.2 2627.5,1126.7 2646.5,1130.7 2666.5,1131.7 2685.5,1126.4 2704.5,1109.8 2723.5,1093.4 2742.5,1083.1 2761.5,1080.7 2780.5,1077.1 2800.5,1080.1 2819.5,1079.0 2838.5,1071.9 2857.5,1067.8 2876.5,1060.5 2895.5,1062.8 2914.5,1062.4 2934.5,1060.5 2953.5,1058.7 2972.5,1057.0 2991.5,1052.7 3010.5,1043.4 3029.5,1027.3 3049.5,1023.4 3068.5,1030.6 3087.5,1033.1 3106.5,1035.8 3125.5,1034.5 3144.5,1036.7 3163.5,1032.0 3183.5,1033.0 3202.5,1024.2 3221.5,1020.0 3240.5,1006.3 3259.5,992.3 3278.5,985.5 3297.5,965.0 3317.5,933.6 3336.5,911.2 3355.5,901.4 3374.5,902.0 3393.5,881.4 3412.5,870.6 3431.5,886.5 3451.5,907.3 3470.5,930.2 3489.5,940.2 3508.5,939.9 3527.5,931.3 3546.5,932.5 3565.5,933.4 3585.5,934.5 3604.5,921.2 3623.5,909.7 3642.5,899.0 3661.5,876.8 3680.5,851.3 3699.5,836.5 3719.5,813.3 3738.5,793.6 3757.5,766.9 3776.5,749.9 3795.5,735.1 3814.5,731.7 3833.5,728.1 3853.5,718.5 3872.5,715.6 3891.5,717.8 3910.5,714.5 3929.5,701.5 3948.5,682.3 3967.5,670.1 3987.5,674.2 4006.5,685.1 4025.5,689.2 4044.5,690.7 4063.5,694.9 4082.5,693.3 4101.5,702.8 4121.5,704.1 4140.5,709.9 4159.5,707.4 4178.5,705.6 4197.5,716.2 4216.5,715.9 4235.5,718.4 4255.5,722.7 4274.5,723.6 4293.5,723.0 4312.5,727.2 4331.5,728.9 4350.5,727.2 4369.5,716.9 4389.5,711.6 4408.5,706.0 4427.5,697.5 4446.5,687.4 4465.5,675.4 4484.5,676.8 4503.5,670.7 4523.5,665.4 4542.5,663.1 4561.5,656.9 4580.5,648.4 4599.5,647.6 4618.5,644.9 4637.5,638.9 4657.5,634.7 4676.5,621.7 4695.5,604.5 4714.5,585.3 4733.5,567.6 4752.5,553.8 4771.5,562.8" fill="none" stroke="#ab47bc" stroke-opacity="0.6" stroke-width="1.85" stroke-linejoin="round"/>
<polyline points="125.0,1257.7 272.7,1257.7 292.5,1206.1 1765.7,1206.1 1785.5,1152.1 3258.7,1152.1 3278.5,1118.2 4751.7,1118.2 4771.5,1019.5" fill="none" stroke="#ba55d3" stroke-width="1.6"/>
<path d="M131.0,1281.2 C161.1,1282.5 209.2,1285.2 311.4,1288.9 C413.6,1292.7 618.5,1299.8 744.4,1303.7 C870.3,1307.6 959.2,1309.7 1066.6,1312.1 C1174.0,1314.5 1283.2,1316.2 1388.8,1317.9 C1494.4,1319.6 1630.7,1321.6 1700.0,1322.3 C1769.3,1323.0 1761.4,1322.5 1804.4,1322.3 C1847.4,1322.1 1910.8,1321.5 1957.8,1321.0 C2004.8,1320.5 2043.6,1319.8 2086.6,1319.1 C2129.5,1318.3 2172.5,1317.6 2215.5,1316.5 C2258.5,1315.4 2301.4,1314.0 2344.4,1312.6 C2387.4,1311.2 2430.3,1309.8 2473.3,1308.1 C2516.3,1306.4 2559.2,1304.8 2602.2,1302.3 C2645.2,1299.8 2688.1,1296.7 2731.1,1293.3 C2774.1,1289.9 2817.1,1286.4 2860.0,1281.7 C2902.9,1277.0 2950.9,1271.0 2988.8,1264.9 C3026.7,1258.8 3060.6,1250.9 3087.4,1245.0 C3114.2,1239.1 3130.9,1235.0 3149.9,1229.5 C3168.9,1224.0 3185.4,1218.8 3201.5,1212.1 C3217.6,1205.4 3234.8,1196.5 3246.6,1189.5 C3258.4,1182.5 3265.4,1176.6 3272.4,1170.2 C3279.4,1163.8 3284.4,1158.6 3288.5,1150.9 C3292.6,1143.2 3295.5,1128.3 3296.9,1123.8" fill="none" stroke="#878787" stroke-width="1.6" stroke-dasharray="10 9.7"/>
<polyline points="292.0,1742.6 1804.5,1658.7 3297.6,1588.4 4771.5,1489.0" fill="none" stroke="#5b8ff0" stroke-width="2"/>
<rect x="112.5" y="917.5" width="14" height="74" fill="#e91e63" fill-opacity="0.8" stroke="#e91e63" stroke-width="1"/>
<rect x="132.0" y="957" width="15" height="20" fill="#2962ff"/>
<rect x="158.0" y="965" width="1" height="11" fill="#e91e63"/>
<rect x="151.5" y="946.5" width="14" height="18" fill="#e91e63" fill-opacity="0.8" stroke="#e91e63" stroke-width="1"/>
<rect x="177.0" y="952" width="1" height="2" fill="#e91e63"/>
<rect x="170.5" y="954.5" width="14" height="22" fill="#e91e63" fill-opacity="0.8" stroke="#e91e63" stroke-width="1"/>
<rect x="196.0" y="965" width="1" height="11" fill="#2962ff"/>
<rect x="196.0" y="980" width="1" height="5" fill="#2962ff"/>
<rect x="189.0" y="976" width="15" height="4" fill="#2962ff"/>
<rect x="215.0" y="968" width="1" height="8" fill="#e91e63"/>
<rect x="208.5" y="976.5" width="14" height="33" fill="#e91e63" fill-opacity="0.8" stroke="#e91e63" stroke-width="1"/>
<rect x="234.0" y="1010" width="1" height="3" fill="#e91e63"/>
<rect x="227.5" y="991.5" width="14" height="18" fill="#e91e63" fill-opacity="0.8" stroke="#e91e63" stroke-width="1"/>
<rect x="253.0" y="941" width="1" height="4" fill="#2962ff"/>
<rect x="246.0" y="945" width="15" height="65" fill="#2962ff"/>
<rect x="273.0" y="908" width="1" height="11" fill="#2962ff"/>
<rect x="266.0" y="919" width="15" height="14" fill="#2962ff"/>
<rect x="292.0" y="881" width="1" height="38" fill="#e91e63"/>
<rect x="292.0" y="984" width="1" height="18" fill="#e91e63"/>
<rect x="285.5" y="919.5" width="14" height="64" fill="#e91e63" fill-opacity="0.8" stroke="#e91e63" stroke-width="1"/>
<rect x="311.0" y="1007" width="1" height="32" fill="#2962ff"/>
<rect x="311.0" y="1133" width="1" height="26" fill="#2962ff"/>
<rect x="304.0" y="1039" width="15" height="94" fill="#2962ff"/>
<rect x="330.0" y="961" width="1" height="26" fill="#2962ff"/>
<rect x="330.0" y="1064" width="1" height="4" fill="#2962ff"/>
<rect x="323.0" y="987" width="15" height="77" fill="#2962ff"/>
<rect x="349.0" y="899" width="1" height="9" fill="#2962ff"/>
<rect x="342.0" y="908" width="15" height="100" fill="#2962ff"/>
<rect x="368.0" y="929" width="1" height="27" fill="#e91e63"/>
<rect x="361.5" y="906.5" width="14" height="22" fill="#e91e63" fill-opacity="0.8" stroke="#e91e63" stroke-width="1"/>
<rect x="387.0" y="877" width="1" height="15" fill="#2962ff"/>
<rect x="380.0" y="892" width="15" height="35" fill="#2962ff"/>
<rect x="407.0" y="805" width="1" height="36" fill="#2962ff"/>
<rect x="400.0" y="841" width="15" height="41" fill="#2962ff"/>
<rect x="426.0" y="831" width="1" height="8" fill="#2962ff"/>
<rect x="419.0" y="783" width="15" height="48" fill="#2962ff"/>
<rect x="445.0" y="744" width="1" height="25" fill="#e91e63"/>
<rect x="445.0" y="781" width="1" height="2" fill="#e91e63"/>
<rect x="438.5" y="769.5" width="14" height="11" fill="#e91e63" fill-opacity="0.8" stroke="#e91e63" stroke-width="1"/>
<rect x="464.0" y="751" width="1" height="17" fill="#2962ff"/>
<rect x="464.0" y="769" width="1" height="3" fill="#2962ff"/>
<rect x="457.0" y="768" width="15" height="1" fill="#2962ff"/>
<rect x="483.0" y="767" width="1" height="5" fill="#e91e63"/>
<rect x="483.0" y="800" width="1" height="8" fill="#e91e63"/>
<rect x="476.5" y="772.5" width="14" height="27" fill="#e91e63" fill-opacity="0.8" stroke="#e91e63" stroke-width="1"/>
<rect x="502.0" y="800" width="1" height="26" fill="#2962ff"/>
<rect x="495.0" y="737" width="15" height="63" fill="#2962ff"/>
<rect x="521.0" y="705" width="1" height="10" fill="#2962ff"/>
<rect x="514.0" y="715" width="15" height="42" fill="#2962ff"/>
<rect x="541.0" y="721" width="1" height="10" fill="#e91e63"/>
<rect x="534.5" y="705.5" width="14" height="15" fill="#e91e63" fill-opacity="0.8" stroke="#e91e63" stroke-width="1"/>
<rect x="560.0" y="687" width="1" height="18" fill="#e91e63"/>
<rect x="553.5" y="705.5" width="14" height="32" fill="#e91e63" fill-opacity="0.8" stroke="#e91e63" stroke-width="1"/>
<rect x="579.0" y="741" width="1" height="10" fill="#2962ff"/>
<rect x="572.0" y="715" width="15" height="26" fill="#2962ff"/>
<rect x="598.0" y="712" width="1" height="12" fill="#e91e63"/>
<rect x="598.0" y="732" width="1" height="5" fill="#e91e63"/>
<rect x="591.5" y="724.5" width="14" height="7" fill="#e91e63" fill-opacity="0.8" stroke="#e91e63" stroke-width="1"/>
<rect x="617.0" y="715" width="1" height="8" fill="#e91e63"/>
<rect x="617.0" y="740" width="1" height="11" fill="#e91e63"/>
<rect x="610.5" y="723.5" width="14" height="16" fill="#e91e63" fill-opacity="0.8" stroke="#e91e63" stroke-width="1"/>
<rect x="636.0" y="737" width="1" height="5" fill="#e91e63"/>
<rect x="636.0" y="759" width="1" height="6" fill="#e91e63"/>
<rect x="629.5" y="742.5" width="14" height="16" fill="#e91e63" fill-opacity="0.8" stroke="#e91e63" stroke-width="1"/>
<rect x="655.0" y="730" width="1" height="27" fill="#e91e63"/>
<rect x="655.0" y="779" width="1" height="1" fill="#e91e63"/>
<rect x="648.5" y="757.5" width="14" height="21" fill="#e91e63" fill-opacity="0.8" stroke="#e91e63" stroke-width="1"/>
<rect x="675.0" y="770" width="1" height="6" fill="#e91e63"/>
<rect x="675.0" y="817" width="1" height="6" fill="#e91e63"/>
<rect x="668.5" y="776.5" width="14" height="40" fill="#e91e63" fill-opacity="0.8" stroke="#e91e63" stroke-width="1"/>
<rect x="694.0" y="820" width="1" height="12" fill="#2962ff"/>
<rect x="687.0" y="783" width="15" height="37" fill="#2962ff"/>
<rect x="713.0" y="762" width="1" height="18" fill="#2962ff"/>
<rect x="713.0" y="781" width="1" height="6" fill="#2962ff"/>
<rect x="706.0" y="780" width="15" height="1" fill="#2962ff"/>
<rect x="732.0" y="777" width="1" height="13" fill="#e91e63"/>
<rect x="725.5" y="772.5" width="14" height="4" fill="#e91e63" fill-opacity="0.8" stroke="#e91e63" stroke-width="1"/>
<rect x="751.0" y="769" width="1" height="12" fill="#e91e63"/>
<rect x="744.5" y="781.5" width="14" height="41" fill="#e91e63" fill-opacity="0.8" stroke="#e91e63" stroke-width="1"/>
<rect x="770.0" y="805" width="1" height="2" fill="#2962ff"/>
<rect x="770.0" y="817" width="1" height="6" fill="#2962ff"/>
<rect x="763.0" y="807" width="15" height="10" fill="#2962ff"/>
<rect x="789.0" y="780" width="1" height="10" fill="#2962ff"/>
<rect x="789.0" y="802" width="1" height="4" fill="#2962ff"/>
<rect x="782.0" y="790" width="15" height="12" fill="#2962ff"/>
<rect x="802.0" y="749" width="15" height="38" fill="#2962ff"/>
<rect x="828.0" y="737" width="1" height="18" fill="#e91e63"/>
<rect x="828.0" y="765" width="1" height="10" fill="#e91e63"/>
<rect x="821.5" y="755.5" width="14" height="9" fill="#e91e63" fill-opacity="0.8" stroke="#e91e63" stroke-width="1"/>
<rect x="847.0" y="734" width="1" height="6" fill="#2962ff"/>
<rect x="840.0" y="740" width="15" height="28" fill="#2962ff"/>
<rect x="866.0" y="733" width="1" height="14" fill="#e91e63"/>
<rect x="859.5" y="747.5" width="14" height="33" fill="#e91e63" fill-opacity="0.8" stroke="#e91e63" stroke-width="1"/>
<rect x="878.5" y="790.5" width="14" height="26" fill="#e91e63" fill-opacity="0.8" stroke="#e91e63" stroke-width="1"/>
<rect x="904.0" y="804" width="1" height="19" fill="#e91e63"/>
<rect x="897.5" y="801.5" width="14" height="2" fill="#e91e63" fill-opacity="0.8" stroke="#e91e63" stroke-width="1"/>
<rect x="924.0" y="817" width="1" height="2" fill="#e91e63"/>
<rect x="917.5" y="808.5" width="14" height="8" fill="#e91e63" fill-opacity="0.8" stroke="#e91e63" stroke-width="1"/>
<rect x="943.0" y="826" width="1" height="9" fill="#e91e63"/>
<rect x="936.5" y="819.5" width="14" height="6" fill="#e91e63" fill-opacity="0.8" stroke="#e91e63" stroke-width="1"/>
<rect x="955.5" y="823.5" width="14" height="39" fill="#e91e63" fill-opacity="0.8" stroke="#e91e63" stroke-width="1"/>
<rect x="981.0" y="866" width="1" height="11" fill="#2962ff"/>
<rect x="974.0" y="877" width="15" height="1" fill="#2962ff"/>
<rect x="1000.0" y="859" width="1" height="7" fill="#2962ff"/>
<rect x="1000.0" y="871" width="1" height="6" fill="#2962ff"/>
<rect x="993.0" y="866" width="15" height="5" fill="#2962ff"/>
<rect x="1019.0" y="855" width="1" height="8" fill="#e91e63"/>
<rect x="1012.5" y="863.5" width="14" height="7" fill="#e91e63" fill-opacity="0.8" stroke="#e91e63" stroke-width="1"/>
<rect x="1038.0" y="866" width="1" height="2" fill="#e91e63"/>
<rect x="1038.0" y="882" width="1" height="2" fill="#e91e63"/>
<rect x="1031.5" y="868.5" width="14" height="13" fill="#e91e63" fill-opacity="0.8" stroke="#e91e63" stroke-width="1"/>
<rect x="1058.0" y="888" width="1" height="4" fill="#e91e63"/>
<rect x="1058.0" y="911" width="1" height="6" fill="#e91e63"/>
<rect x="1051.5" y="892.5" width="14" height="18" fill="#e91e63" fill-opacity="0.8" stroke="#e91e63" stroke-width="1"/>
<rect x="1077.0" y="893" width="1" height="18" fill="#e91e63"/>
<rect x="1070.5" y="911.5" width="14" height="20" fill="#e91e63" fill-opacity="0.8" stroke="#e91e63" stroke-width="1"/>
<rect x="1089.0" y="898" width="15" height="6" fill="#2962ff"/>
<rect x="1115.0" y="900" width="1" height="3" fill="#2962ff"/>
<rect x="1108.0" y="877" width="15" height="23" fill="#2962ff"/>
<rect x="1134.0" y="866" width="1" height="11" fill="#e91e63"/>
<rect x="1127.5" y="877.5" width="14" height="14" fill="#e91e63" fill-opacity="0.8" stroke="#e91e63" stroke-width="1"/>
<rect x="1153.0" y="884" width="1" height="13" fill="#2962ff"/>
<rect x="1146.0" y="897" width="15" height="1" fill="#2962ff"/>
<rect x="1172.0" y="866" width="1" height="8" fill="#2962ff"/>
<rect x="1165.0" y="874" width="15" height="21" fill="#2962ff"/>
<rect x="1192.0" y="866" width="1" height="4" fill="#e91e63"/>
<rect x="1185.5" y="870.5" width="14" height="3" fill="#e91e63" fill-opacity="0.8" stroke="#e91e63" stroke-width="1"/>
<rect x="1204.5" y="872.5" width="14" height="15" fill="#e91e63" fill-opacity="0.8" stroke="#e91e63" stroke-width="1"/>
<rect x="1230.0" y="882" width="1" height="2" fill="#2962ff"/>
<rect x="1223.0" y="862" width="15" height="20" fill="#2962ff"/>
<rect x="1242.5" y="852.5" width="14" height="25" fill="#e91e63" fill-opacity="0.8" stroke="#e91e63" stroke-width="1"/>
<rect x="1268.0" y="863" width="1" height="14" fill="#e91e63"/>
<rect x="1268.0" y="881" width="1" height="7" fill="#e91e63"/>
<rect x="1261.5" y="877.5" width="14" height="3" fill="#e91e63" fill-opacity="0.8" stroke="#e91e63" stroke-width="1"/>
<rect x="1287.0" y="899" width="1" height="8" fill="#e91e63"/>
<rect x="1280.0" y="907" width="15" height="1" fill="#e91e63"/>
<rect x="1306.0" y="903" width="1" height="7" fill="#2962ff"/>
<rect x="1306.0" y="913" width="1" height="4" fill="#2962ff"/>
<rect x="1299.0" y="910" width="15" height="3" fill="#2962ff"/>
<rect x="1326.0" y="907" width="1" height="14" fill="#2962ff"/>
<rect x="1319.0" y="906" width="15" height="1" fill="#2962ff"/>
<rect x="1345.0" y="906" width="1" height="7" fill="#2962ff"/>
<rect x="1345.0" y="914" width="1" height="3" fill="#2962ff"/>
<rect x="1338.0" y="913" width="15" height="1" fill="#2962ff"/>
<rect x="1364.0" y="904" width="1" height="6" fill="#2962ff"/>
<rect x="1357.0" y="910" width="15" height="3" fill="#2962ff"/>
<rect x="1383.0" y="903" width="1" height="1" fill="#e91e63"/>
<rect x="1383.0" y="907" width="1" height="5" fill="#e91e63"/>
<rect x="1376.5" y="904.5" width="14" height="2" fill="#e91e63" fill-opacity="0.8" stroke="#e91e63" stroke-width="1"/>
<rect x="1402.0" y="877" width="1" height="4" fill="#2962ff"/>
<rect x="1395.0" y="881" width="15" height="32" fill="#2962ff"/>
<rect x="1421.0" y="872" width="1" height="1" fill="#2962ff"/>
<rect x="1414.0" y="873" width="15" height="11" fill="#2962ff"/>
<rect x="1433.5" y="866.5" width="14" height="14" fill="#e91e63" fill-opacity="0.8" stroke="#e91e63" stroke-width="1"/>
<rect x="1460.0" y="852" width="1" height="3" fill="#2962ff"/>
<rect x="1453.0" y="855" width="15" height="33" fill="#2962ff"/>
<rect x="1479.0" y="852" width="1" height="7" fill="#e91e63"/>
<rect x="1479.0" y="913" width="1" height="8" fill="#e91e63"/>
<rect x="1472.5" y="859.5" width="14" height="53" fill="#e91e63" fill-opacity="0.8" stroke="#e91e63" stroke-width="1"/>
<rect x="1498.0" y="917" width="1" height="4" fill="#2962ff"/>
<rect x="1491.0" y="921" width="15" height="12" fill="#2962ff"/>
<rect x="1517.0" y="910" width="1" height="3" fill="#e91e63"/>
<rect x="1510.5" y="913.5" width="14" height="8" fill="#e91e63" fill-opacity="0.8" stroke="#e91e63" stroke-width="1"/>
<rect x="1536.0" y="929" width="1" height="10" fill="#2962ff"/>
<rect x="1529.0" y="928" width="15" height="1" fill="#2962ff"/>
<rect x="1555.0" y="939" width="1" height="7" fill="#e91e63"/>
<rect x="1548.5" y="917.5" width="14" height="21" fill="#e91e63" fill-opacity="0.8" stroke="#e91e63" stroke-width="1"/>
<rect x="1574.0" y="908" width="1" height="16" fill="#2962ff"/>
<rect x="1567.0" y="924" width="15" height="18" fill="#2962ff"/>
<rect x="1594.0" y="921" width="1" height="7" fill="#2962ff"/>
<rect x="1587.0" y="928" width="15" height="1" fill="#2962ff"/>
<rect x="1613.0" y="950" width="1" height="4" fill="#e91e63"/>
<rect x="1606.5" y="935.5" width="14" height="14" fill="#e91e63" fill-opacity="0.8" stroke="#e91e63" stroke-width="1"/>
<rect x="1632.0" y="932" width="1" height="3" fill="#2962ff"/>
<rect x="1632.0" y="946" width="1" height="15" fill="#2962ff"/>
<rect x="1625.0" y="935" width="15" height="11" fill="#2962ff"/>
<rect x="1651.0" y="921" width="1" height="7" fill="#2962ff"/>
<rect x="1651.0" y="940" width="1" height="1" fill="#2962ff"/>
<rect x="1644.0" y="928" width="15" height="12" fill="#2962ff"/>
<rect x="1670.0" y="961" width="1" height="26" fill="#e91e63"/>
<rect x="1663.5" y="932.5" width="14" height="28" fill="#e91e63" fill-opacity="0.8" stroke="#e91e63" stroke-width="1"/>
<rect x="1689.0" y="965" width="1" height="3" fill="#2962ff"/>
<rect x="1682.0" y="968" width="15" height="5" fill="#2962ff"/>
<rect x="1708.0" y="961" width="1" height="2" fill="#2962ff"/>
<rect x="1708.0" y="965" width="1" height="10" fill="#2962ff"/>
<rect x="1701.0" y="963" width="15" height="2" fill="#2962ff"/>
<rect x="1728.0" y="973" width="1" height="8" fill="#e91e63"/>
<rect x="1721.5" y="963.5" width="14" height="9" fill="#e91e63" fill-opacity="0.8" stroke="#e91e63" stroke-width="1"/>
<rect x="1747.0" y="935" width="1" height="8" fill="#2962ff"/>
<rect x="1740.0" y="943" width="15" height="36" fill="#2962ff"/>
<rect x="1766.0" y="882" width="1" height="35" fill="#2962ff"/>
<rect x="1766.0" y="922" width="1" height="13" fill="#2962ff"/>
<rect x="1759.0" y="917" width="15" height="5" fill="#2962ff"/>
<rect x="1785.0" y="899" width="1" height="7" fill="#e91e63"/>
<rect x="1785.0" y="914" width="1" height="32" fill="#e91e63"/>
<rect x="1778.5" y="906.5" width="14" height="7" fill="#e91e63" fill-opacity="0.8" stroke="#e91e63" stroke-width="1"/>
<rect x="1804.0" y="873" width="1" height="55" fill="#e91e63"/>
<rect x="1804.0" y="935" width="1" height="76" fill="#e91e63"/>
<rect x="1797.5" y="928.5" width="14" height="6" fill="#e91e63" fill-opacity="0.8" stroke="#e91e63" stroke-width="1"/>
<rect x="1823.0" y="928" width="1" height="4" fill="#2962ff"/>
<rect x="1823.0" y="964" width="1" height="4" fill="#2962ff"/>
<rect x="1816.0" y="932" width="15" height="32" fill="#2962ff"/>
<rect x="1842.0" y="1017" width="1" height="18" fill="#e91e63"/>
<rect x="1835.5" y="943.5" width="14" height="73" fill="#e91e63" fill-opacity="0.8" stroke="#e91e63" stroke-width="1"/>
<rect x="1862.0" y="1082" width="1" height="38" fill="#e91e63"/>
<rect x="1855.5" y="991.5" width="14" height="90" fill="#e91e63" fill-opacity="0.8" stroke="#e91e63" stroke-width="1"/>
<rect x="1881.0" y="1145" width="1" height="9" fill="#e91e63"/>
<rect x="1874.5" y="1068.5" width="14" height="76" fill="#e91e63" fill-opacity="0.8" stroke="#e91e63" stroke-width="1"/>
<rect x="1900.0" y="1110" width="1" height="16" fill="#2962ff"/>
<rect x="1893.0" y="1126" width="15" height="27" fill="#2962ff"/>
<rect x="1919.0" y="1105" width="1" height="23" fill="#e91e63"/>
<rect x="1919.0" y="1252" width="1" height="25" fill="#e91e63"/>
<rect x="1912.5" y="1128.5" width="14" height="123" fill="#e91e63" fill-opacity="0.8" stroke="#e91e63" stroke-width="1"/>
<rect x="1938.0" y="1189" width="1" height="38" fill="#2962ff"/>
<rect x="1938.0" y="1254" width="1" height="3" fill="#2962ff"/>
<rect x="1931.0" y="1227" width="15" height="27" fill="#2962ff"/>
<rect x="1957.0" y="1151" width="1" height="15" fill="#2962ff"/>
<rect x="1950.0" y="1166" width="15" height="58" fill="#2962ff"/>
<rect x="1976.0" y="1196" width="1" height="4" fill="#2962ff"/>
<rect x="1969.0" y="1170" width="15" height="26" fill="#2962ff"/>
<rect x="1996.0" y="1181" width="1" height="10" fill="#e91e63"/>
<rect x="1996.0" y="1192" width="1" height="8" fill="#e91e63"/>
<rect x="1989.0" y="1191" width="15" height="1" fill="#e91e63"/>
<rect x="2015.0" y="1181" width="1" height="12" fill="#e91e63"/>
<rect x="2015.0" y="1205" width="1" height="13" fill="#e91e63"/>
<rect x="2008.5" y="1193.5" width="14" height="11" fill="#e91e63" fill-opacity="0.8" stroke="#e91e63" stroke-width="1"/>
<rect x="2027.0" y="1181" width="15" height="51" fill="#2962ff"/>
<rect x="2053.0" y="1182" width="1" height="18" fill="#2962ff"/>
<rect x="2046.0" y="1159" width="15" height="23" fill="#2962ff"/>
<rect x="2065.0" y="1102" width="15" height="54" fill="#2962ff"/>
<rect x="2091.0" y="1150" width="1" height="24" fill="#e91e63"/>
<rect x="2084.5" y="1102.5" width="14" height="47" fill="#e91e63" fill-opacity="0.8" stroke="#e91e63" stroke-width="1"/>
<rect x="2110.0" y="1076" width="1" height="15" fill="#2962ff"/>
<rect x="2103.0" y="1091" width="15" height="38" fill="#2962ff"/>
<rect x="2130.0" y="1108" width="1" height="5" fill="#e91e63"/>
<rect x="2123.5" y="1083.5" width="14" height="24" fill="#e91e63" fill-opacity="0.8" stroke="#e91e63" stroke-width="1"/>
<rect x="2149.0" y="1126" width="1" height="2" fill="#e91e63"/>
<rect x="2142.5" y="1113.5" width="14" height="12" fill="#e91e63" fill-opacity="0.8" stroke="#e91e63" stroke-width="1"/>
<rect x="2168.0" y="1089" width="1" height="6" fill="#2962ff"/>
<rect x="2161.0" y="1095" width="15" height="36" fill="#2962ff"/>
<rect x="2187.0" y="1072" width="1" height="4" fill="#e91e63"/>
<rect x="2187.0" y="1092" width="1" height="18" fill="#e91e63"/>
<rect x="2180.5" y="1076.5" width="14" height="15" fill="#e91e63" fill-opacity="0.8" stroke="#e91e63" stroke-width="1"/>
<rect x="2199.0" y="1035" width="15" height="57" fill="#2962ff"/>
<rect x="2225.0" y="1028" width="1" height="16" fill="#e91e63"/>
<rect x="2218.5" y="1044.5" width="14" height="24" fill="#e91e63" fill-opacity="0.8" stroke="#e91e63" stroke-width="1"/>
<rect x="2244.0" y="1072" width="1" height="4" fill="#e91e63"/>
<rect x="2244.0" y="1081" width="1" height="6" fill="#e91e63"/>
<rect x="2237.5" y="1076.5" width="14" height="4" fill="#e91e63" fill-opacity="0.8" stroke="#e91e63" stroke-width="1"/>
<rect x="2257.5" y="1076.5" width="14" height="26" fill="#e91e63" fill-opacity="0.8" stroke="#e91e63" stroke-width="1"/>
<rect x="2283.0" y="1104" width="1" height="2" fill="#2962ff"/>
<rect x="2283.0" y="1114" width="1" height="14" fill="#2962ff"/>
<rect x="2276.0" y="1106" width="15" height="8" fill="#2962ff"/>
<rect x="2302.0" y="1095" width="1" height="3" fill="#e91e63"/>
<rect x="2295.5" y="1098.5" width="14" height="11" fill="#e91e63" fill-opacity="0.8" stroke="#e91e63" stroke-width="1"/>
<rect x="2321.0" y="1098" width="1" height="8" fill="#e91e63"/>
<rect x="2314.5" y="1106.5" width="14" height="6" fill="#e91e63" fill-opacity="0.8" stroke="#e91e63" stroke-width="1"/>
<rect x="2333.0" y="1076" width="15" height="35" fill="#2962ff"/>
<rect x="2359.0" y="1061" width="1" height="22" fill="#e91e63"/>
<rect x="2359.0" y="1092" width="1" height="2" fill="#e91e63"/>
<rect x="2352.5" y="1083.5" width="14" height="8" fill="#e91e63" fill-opacity="0.8" stroke="#e91e63" stroke-width="1"/>
<rect x="2378.0" y="1099" width="1" height="7" fill="#e91e63"/>
<rect x="2371.5" y="1091.5" width="14" height="7" fill="#e91e63" fill-opacity="0.8" stroke="#e91e63" stroke-width="1"/>
<rect x="2398.0" y="1103" width="1" height="10" fill="#e91e63"/>
<rect x="2391.5" y="1096.5" width="14" height="6" fill="#e91e63" fill-opacity="0.8" stroke="#e91e63" stroke-width="1"/>
<rect x="2417.0" y="1083" width="1" height="12" fill="#e91e63"/>
<rect x="2417.0" y="1108" width="1" height="2" fill="#e91e63"/>
<rect x="2410.5" y="1095.5" width="14" height="12" fill="#e91e63" fill-opacity="0.8" stroke="#e91e63" stroke-width="1"/>
<rect x="2436.0" y="1083" width="1" height="19" fill="#e91e63"/>
<rect x="2429.5" y="1102.5" width="14" height="25" fill="#e91e63" fill-opacity="0.8" stroke="#e91e63" stroke-width="1"/>
<rect x="2455.0" y="1142" width="1" height="5" fill="#e91e63"/>
<rect x="2448.5" y="1128.5" width="14" height="13" fill="#e91e63" fill-opacity="0.8" stroke="#e91e63" stroke-width="1"/>
<rect x="2474.0" y="1148" width="1" height="7" fill="#2962ff"/>
<rect x="2467.0" y="1147" width="15" height="1" fill="#2962ff"/>
<rect x="2493.0" y="1128" width="1" height="12" fill="#2962ff"/>
<rect x="2486.0" y="1140" width="15" height="20" fill="#2962ff"/>
<rect x="2512.0" y="1117" width="1" height="8" fill="#2962ff"/>
<rect x="2505.0" y="1125" width="15" height="19" fill="#2962ff"/>
<rect x="2532.0" y="1117" width="1" height="4" fill="#e91e63"/>
<rect x="2525.5" y="1121.5" width="14" height="15" fill="#e91e63" fill-opacity="0.8" stroke="#e91e63" stroke-width="1"/>
<rect x="2551.0" y="1083" width="1" height="4" fill="#2962ff"/>
<rect x="2544.0" y="1087" width="15" height="42" fill="#2962ff"/>
<rect x="2563.5" y="1093.5" width="14" height="28" fill="#e91e63" fill-opacity="0.8" stroke="#e91e63" stroke-width="1"/>
<rect x="2589.0" y="1123" width="1" height="2" fill="#e91e63"/>
<rect x="2589.0" y="1129" width="1" height="3" fill="#e91e63"/>
<rect x="2582.5" y="1125.5" width="14" height="3" fill="#e91e63" fill-opacity="0.8" stroke="#e91e63" stroke-width="1"/>
<rect x="2608.0" y="1125" width="1" height="7" fill="#e91e63"/>
<rect x="2601.5" y="1132.5" width="14" height="4" fill="#e91e63" fill-opacity="0.8" stroke="#e91e63" stroke-width="1"/>
<rect x="2627.0" y="1121" width="1" height="7" fill="#2962ff"/>
<rect x="2620.0" y="1128" width="15" height="1" fill="#2962ff"/>
<rect x="2639.5" y="1132.5" width="14" height="8" fill="#e91e63" fill-opacity="0.8" stroke="#e91e63" stroke-width="1"/>
<rect x="2666.0" y="1137" width="1" height="3" fill="#2962ff"/>
<rect x="2659.0" y="1134" width="15" height="3" fill="#2962ff"/>
<rect x="2685.0" y="1132" width="1" height="11" fill="#2962ff"/>
<rect x="2678.0" y="1113" width="15" height="19" fill="#2962ff"/>
<rect x="2697.0" y="1068" width="15" height="24" fill="#2962ff"/>
<rect x="2723.0" y="1041" width="1" height="11" fill="#2962ff"/>
<rect x="2716.0" y="1052" width="15" height="29" fill="#2962ff"/>
<rect x="2742.0" y="1058" width="1" height="3" fill="#e91e63"/>
<rect x="2735.5" y="1042.5" width="14" height="15" fill="#e91e63" fill-opacity="0.8" stroke="#e91e63" stroke-width="1"/>
<rect x="2761.0" y="1075" width="1" height="4" fill="#e91e63"/>
<rect x="2754.5" y="1065.5" width="14" height="9" fill="#e91e63" fill-opacity="0.8" stroke="#e91e63" stroke-width="1"/>
<rect x="2780.0" y="1073" width="1" height="4" fill="#2962ff"/>
<rect x="2773.0" y="1068" width="15" height="5" fill="#2962ff"/>
<rect x="2800.0" y="1065" width="1" height="9" fill="#e91e63"/>
<rect x="2793.5" y="1074.5" width="14" height="13" fill="#e91e63" fill-opacity="0.8" stroke="#e91e63" stroke-width="1"/>
<rect x="2812.0" y="1076" width="15" height="12" fill="#2962ff"/>
<rect x="2838.0" y="1050" width="1" height="4" fill="#2962ff"/>
<rect x="2831.0" y="1054" width="15" height="23" fill="#2962ff"/>
<rect x="2857.0" y="1042" width="1" height="12" fill="#e91e63"/>
<rect x="2857.0" y="1058" width="1" height="1" fill="#e91e63"/>
<rect x="2850.5" y="1054.5" width="14" height="3" fill="#e91e63" fill-opacity="0.8" stroke="#e91e63" stroke-width="1"/>
<rect x="2876.0" y="1035" width="1" height="7" fill="#2962ff"/>
<rect x="2869.0" y="1042" width="15" height="16" fill="#2962ff"/>
<rect x="2895.0" y="1024" width="1" height="11" fill="#e91e63"/>
<rect x="2888.5" y="1035.5" width="14" height="33" fill="#e91e63" fill-opacity="0.8" stroke="#e91e63" stroke-width="1"/>
<rect x="2914.0" y="1062" width="1" height="10" fill="#2962ff"/>
<rect x="2907.0" y="1061" width="15" height="1" fill="#2962ff"/>
<rect x="2934.0" y="1046" width="1" height="4" fill="#e91e63"/>
<rect x="2934.0" y="1056" width="1" height="1" fill="#e91e63"/>
<rect x="2927.5" y="1050.5" width="14" height="5" fill="#e91e63" fill-opacity="0.8" stroke="#e91e63" stroke-width="1"/>
<rect x="2953.0" y="1055" width="1" height="13" fill="#2962ff"/>
<rect x="2946.0" y="1054" width="15" height="1" fill="#2962ff"/>
<rect x="2972.0" y="1053" width="1" height="4" fill="#e91e63"/>
<rect x="2965.5" y="1046.5" width="14" height="6" fill="#e91e63" fill-opacity="0.8" stroke="#e91e63" stroke-width="1"/>
<rect x="2991.0" y="1028" width="1" height="14" fill="#2962ff"/>
<rect x="2984.0" y="1042" width="15" height="9" fill="#2962ff"/>
<rect x="3003.0" y="1020" width="15" height="27" fill="#2962ff"/>
<rect x="3029.0" y="983" width="1" height="4" fill="#2962ff"/>
<rect x="3029.0" y="1014" width="1" height="1" fill="#2962ff"/>
<rect x="3022.0" y="987" width="15" height="27" fill="#2962ff"/>
<rect x="3042.5" y="983.5" width="14" height="30" fill="#e91e63" fill-opacity="0.8" stroke="#e91e63" stroke-width="1"/>
<rect x="3061.5" y="1013.5" width="14" height="34" fill="#e91e63" fill-opacity="0.8" stroke="#e91e63" stroke-width="1"/>
<rect x="3087.0" y="1028" width="1" height="7" fill="#e91e63"/>
<rect x="3080.5" y="1035.5" width="14" height="4" fill="#e91e63" fill-opacity="0.8" stroke="#e91e63" stroke-width="1"/>
<rect x="3106.0" y="1016" width="1" height="23" fill="#e91e63"/>
<rect x="3099.5" y="1039.5" width="14" height="2" fill="#e91e63" fill-opacity="0.8" stroke="#e91e63" stroke-width="1"/>
<rect x="3125.0" y="1050" width="1" height="6" fill="#2962ff"/>
<rect x="3118.0" y="1031" width="15" height="19" fill="#2962ff"/>
<rect x="3144.0" y="1028" width="1" height="7" fill="#e91e63"/>
<rect x="3137.5" y="1035.5" width="14" height="6" fill="#e91e63" fill-opacity="0.8" stroke="#e91e63" stroke-width="1"/>
<rect x="3163.0" y="1016" width="1" height="4" fill="#2962ff"/>
<rect x="3163.0" y="1032" width="1" height="10" fill="#2962ff"/>
<rect x="3156.0" y="1020" width="15" height="12" fill="#2962ff"/>
<rect x="3183.0" y="1009" width="1" height="11" fill="#e91e63"/>
<rect x="3183.0" y="1036" width="1" height="14" fill="#e91e63"/>
<rect x="3176.5" y="1020.5" width="14" height="15" fill="#e91e63" fill-opacity="0.8" stroke="#e91e63" stroke-width="1"/>
<rect x="3202.0" y="996" width="1" height="6" fill="#2962ff"/>
<rect x="3202.0" y="1029" width="1" height="2" fill="#2962ff"/>
<rect x="3195.0" y="1002" width="15" height="27" fill="#2962ff"/>
<rect x="3221.0" y="998" width="1" height="9" fill="#e91e63"/>
<rect x="3214.5" y="1007.5" width="14" height="2" fill="#e91e63" fill-opacity="0.8" stroke="#e91e63" stroke-width="1"/>
<rect x="3240.0" y="965" width="1" height="7" fill="#2962ff"/>
<rect x="3240.0" y="995" width="1" height="7" fill="#2962ff"/>
<rect x="3233.0" y="972" width="15" height="23" fill="#2962ff"/>
<rect x="3259.0" y="946" width="1" height="11" fill="#2962ff"/>
<rect x="3259.0" y="966" width="1" height="1" fill="#2962ff"/>
<rect x="3252.0" y="957" width="15" height="9" fill="#2962ff"/>
<rect x="3278.0" y="946" width="1" height="11" fill="#e91e63"/>
<rect x="3271.5" y="957.5" width="14" height="11" fill="#e91e63" fill-opacity="0.8" stroke="#e91e63" stroke-width="1"/>
<rect x="3297.0" y="821" width="1" height="74" fill="#e91e63"/>
<rect x="3297.0" y="914" width="1" height="13" fill="#e91e63"/>
<rect x="3290.5" y="895.5" width="14" height="18" fill="#e91e63" fill-opacity="0.8" stroke="#e91e63" stroke-width="1"/>
<rect x="3317.0" y="889" width="1" height="3" fill="#2962ff"/>
<rect x="3310.0" y="855" width="15" height="34" fill="#2962ff"/>
<rect x="3336.0" y="834" width="1" height="21" fill="#2962ff"/>
<rect x="3336.0" y="856" width="1" height="25" fill="#2962ff"/>
<rect x="3329.0" y="855" width="15" height="1" fill="#2962ff"/>
<rect x="3348.0" y="877" width="15" height="1" fill="#2962ff"/>
<rect x="3374.0" y="859" width="1" height="13" fill="#e91e63"/>
<rect x="3367.5" y="872.5" width="14" height="30" fill="#e91e63" fill-opacity="0.8" stroke="#e91e63" stroke-width="1"/>
<rect x="3393.0" y="902" width="1" height="8" fill="#2962ff"/>
<rect x="3386.0" y="830" width="15" height="72" fill="#2962ff"/>
<rect x="3412.0" y="790" width="1" height="44" fill="#e91e63"/>
<rect x="3405.5" y="834.5" width="14" height="9" fill="#e91e63" fill-opacity="0.8" stroke="#e91e63" stroke-width="1"/>
<rect x="3424.5" y="866.5" width="14" height="59" fill="#e91e63" fill-opacity="0.8" stroke="#e91e63" stroke-width="1"/>
<rect x="3451.0" y="959" width="1" height="16" fill="#e91e63"/>
<rect x="3444.5" y="928.5" width="14" height="30" fill="#e91e63" fill-opacity="0.8" stroke="#e91e63" stroke-width="1"/>
<rect x="3470.0" y="967" width="1" height="5" fill="#e91e63"/>
<rect x="3470.0" y="987" width="1" height="7" fill="#e91e63"/>
<rect x="3463.5" y="972.5" width="14" height="14" fill="#e91e63" fill-opacity="0.8" stroke="#e91e63" stroke-width="1"/>
<rect x="3489.0" y="950" width="1" height="15" fill="#2962ff"/>
<rect x="3482.0" y="965" width="15" height="12" fill="#2962ff"/>
<rect x="3508.0" y="924" width="1" height="15" fill="#2962ff"/>
<rect x="3501.0" y="939" width="15" height="28" fill="#2962ff"/>
<rect x="3527.0" y="897" width="1" height="13" fill="#2962ff"/>
<rect x="3520.0" y="910" width="15" height="22" fill="#2962ff"/>
<rect x="3546.0" y="897" width="1" height="13" fill="#e91e63"/>
<rect x="3539.5" y="910.5" width="14" height="24" fill="#e91e63" fill-opacity="0.8" stroke="#e91e63" stroke-width="1"/>
<rect x="3565.0" y="910" width="1" height="25" fill="#e91e63"/>
<rect x="3558.0" y="935" width="15" height="1" fill="#e91e63"/>
<rect x="3585.0" y="926" width="1" height="11" fill="#2962ff"/>
<rect x="3578.0" y="937" width="15" height="2" fill="#2962ff"/>
<rect x="3597.0" y="888" width="15" height="47" fill="#2962ff"/>
<rect x="3623.0" y="859" width="1" height="22" fill="#2962ff"/>
<rect x="3616.0" y="881" width="15" height="1" fill="#2962ff"/>
<rect x="3642.0" y="865" width="1" height="7" fill="#2962ff"/>
<rect x="3635.0" y="872" width="15" height="10" fill="#2962ff"/>
<rect x="3654.0" y="821" width="15" height="39" fill="#2962ff"/>
<rect x="3673.5" y="783.5" width="14" height="4" fill="#e91e63" fill-opacity="0.8" stroke="#e91e63" stroke-width="1"/>
<rect x="3692.5" y="769.5" width="14" height="30" fill="#e91e63" fill-opacity="0.8" stroke="#e91e63" stroke-width="1"/>
<rect x="3712.0" y="755" width="15" height="33" fill="#2962ff"/>
<rect x="3738.0" y="740" width="1" height="4" fill="#2962ff"/>
<rect x="3738.0" y="756" width="1" height="6" fill="#2962ff"/>
<rect x="3731.0" y="744" width="15" height="12" fill="#2962ff"/>
<rect x="3757.0" y="694" width="1" height="6" fill="#2962ff"/>
<rect x="3750.0" y="700" width="15" height="38" fill="#2962ff"/>
<rect x="3776.0" y="692" width="1" height="9" fill="#e91e63"/>
<rect x="3776.0" y="707" width="1" height="6" fill="#e91e63"/>
<rect x="3769.5" y="701.5" width="14" height="5" fill="#e91e63" fill-opacity="0.8" stroke="#e91e63" stroke-width="1"/>
<rect x="3795.0" y="687" width="1" height="11" fill="#2962ff"/>
<rect x="3795.0" y="706" width="1" height="1" fill="#2962ff"/>
<rect x="3788.0" y="698" width="15" height="8" fill="#2962ff"/>
<rect x="3814.0" y="723" width="1" height="16" fill="#e91e63"/>
<rect x="3807.5" y="712.5" width="14" height="10" fill="#e91e63" fill-opacity="0.8" stroke="#e91e63" stroke-width="1"/>
<rect x="3833.0" y="734" width="1" height="6" fill="#2962ff"/>
<rect x="3826.0" y="719" width="15" height="15" fill="#2962ff"/>
<rect x="3846.0" y="694" width="15" height="19" fill="#2962ff"/>
<rect x="3872.0" y="694" width="1" height="13" fill="#e91e63"/>
<rect x="3865.0" y="707" width="15" height="1" fill="#e91e63"/>
<rect x="3891.0" y="703" width="1" height="5" fill="#e91e63"/>
<rect x="3884.5" y="708.5" width="14" height="14" fill="#e91e63" fill-opacity="0.8" stroke="#e91e63" stroke-width="1"/>
<rect x="3903.0" y="706" width="15" height="17" fill="#2962ff"/>
<rect x="3929.0" y="654" width="1" height="15" fill="#2962ff"/>
<rect x="3929.0" y="687" width="1" height="13" fill="#2962ff"/>
<rect x="3922.0" y="669" width="15" height="18" fill="#2962ff"/>
<rect x="3948.0" y="656" width="1" height="20" fill="#2962ff"/>
<rect x="3941.0" y="634" width="15" height="22" fill="#2962ff"/>
<rect x="3967.0" y="624" width="1" height="3" fill="#e91e63"/>
<rect x="3960.5" y="627.5" width="14" height="11" fill="#e91e63" fill-opacity="0.8" stroke="#e91e63" stroke-width="1"/>
<rect x="3987.0" y="648" width="1" height="7" fill="#e91e63"/>
<rect x="3980.5" y="655.5" width="14" height="28" fill="#e91e63" fill-opacity="0.8" stroke="#e91e63" stroke-width="1"/>
<rect x="4006.0" y="713" width="1" height="10" fill="#e91e63"/>
<rect x="3999.5" y="691.5" width="14" height="21" fill="#e91e63" fill-opacity="0.8" stroke="#e91e63" stroke-width="1"/>
<rect x="4025.0" y="694" width="1" height="4" fill="#e91e63"/>
<rect x="4018.0" y="698" width="15" height="2" fill="#e91e63"/>
<rect x="4044.0" y="684" width="1" height="10" fill="#2962ff"/>
<rect x="4044.0" y="700" width="1" height="5" fill="#2962ff"/>
<rect x="4037.0" y="694" width="15" height="6" fill="#2962ff"/>
<rect x="4056.5" y="691.5" width="14" height="14" fill="#e91e63" fill-opacity="0.8" stroke="#e91e63" stroke-width="1"/>
<rect x="4082.0" y="684" width="1" height="5" fill="#2962ff"/>
<rect x="4075.0" y="689" width="15" height="10" fill="#2962ff"/>
<rect x="4094.5" y="694.5" width="14" height="31" fill="#e91e63" fill-opacity="0.8" stroke="#e91e63" stroke-width="1"/>
<rect x="4121.0" y="705" width="1" height="2" fill="#2962ff"/>
<rect x="4114.0" y="707" width="15" height="14" fill="#2962ff"/>
<rect x="4140.0" y="724" width="1" height="13" fill="#e91e63"/>
<rect x="4133.5" y="719.5" width="14" height="4" fill="#e91e63" fill-opacity="0.8" stroke="#e91e63" stroke-width="1"/>
<rect x="4152.0" y="701" width="15" height="28" fill="#2962ff"/>
<rect x="4171.0" y="701" width="15" height="14" fill="#2962ff"/>
<rect x="4197.0" y="710" width="1" height="5" fill="#e91e63"/>
<rect x="4190.5" y="715.5" width="14" height="27" fill="#e91e63" fill-opacity="0.8" stroke="#e91e63" stroke-width="1"/>
<rect x="4209.0" y="715" width="15" height="41" fill="#2962ff"/>
<rect x="4235.0" y="724" width="1" height="16" fill="#e91e63"/>
<rect x="4228.5" y="705.5" width="14" height="18" fill="#e91e63" fill-opacity="0.8" stroke="#e91e63" stroke-width="1"/>
<rect x="4255.0" y="734" width="1" height="24" fill="#e91e63"/>
<rect x="4248.5" y="715.5" width="14" height="18" fill="#e91e63" fill-opacity="0.8" stroke="#e91e63" stroke-width="1"/>
<rect x="4267.0" y="726" width="15" height="1" fill="#2962ff"/>
<rect x="4293.0" y="712" width="1" height="3" fill="#e91e63"/>
<rect x="4293.0" y="722" width="1" height="4" fill="#e91e63"/>
<rect x="4286.5" y="715.5" width="14" height="6" fill="#e91e63" fill-opacity="0.8" stroke="#e91e63" stroke-width="1"/>
<rect x="4312.0" y="737" width="1" height="3" fill="#e91e63"/>
<rect x="4305.5" y="721.5" width="14" height="15" fill="#e91e63" fill-opacity="0.8" stroke="#e91e63" stroke-width="1"/>
<rect x="4331.0" y="743" width="1" height="8" fill="#2962ff"/>
<rect x="4324.0" y="733" width="15" height="10" fill="#2962ff"/>
<rect x="4343.0" y="723" width="15" height="8" fill="#2962ff"/>
<rect x="4369.0" y="666" width="1" height="25" fill="#2962ff"/>
<rect x="4362.0" y="691" width="15" height="43" fill="#2962ff"/>
<rect x="4389.0" y="669" width="1" height="18" fill="#e91e63"/>
<rect x="4389.0" y="698" width="1" height="10" fill="#e91e63"/>
<rect x="4382.5" y="687.5" width="14" height="10" fill="#e91e63" fill-opacity="0.8" stroke="#e91e63" stroke-width="1"/>
<rect x="4401.0" y="692" width="15" height="7" fill="#2962ff"/>
<rect x="4427.0" y="692" width="1" height="9" fill="#2962ff"/>
<rect x="4420.0" y="676" width="15" height="16" fill="#2962ff"/>
<rect x="4446.0" y="670" width="1" height="3" fill="#2962ff"/>
<rect x="4439.0" y="662" width="15" height="8" fill="#2962ff"/>
<rect x="4465.0" y="641" width="1" height="4" fill="#2962ff"/>
<rect x="4465.0" y="668" width="1" height="3" fill="#2962ff"/>
<rect x="4458.0" y="645" width="15" height="23" fill="#2962ff"/>
<rect x="4477.5" y="655.5" width="14" height="24" fill="#e91e63" fill-opacity="0.8" stroke="#e91e63" stroke-width="1"/>
<rect x="4503.0" y="665" width="1" height="11" fill="#2962ff"/>
<rect x="4496.0" y="655" width="15" height="10" fill="#2962ff"/>
<rect x="4523.0" y="665" width="1" height="11" fill="#2962ff"/>
<rect x="4516.0" y="652" width="15" height="13" fill="#2962ff"/>
<rect x="4542.0" y="655" width="1" height="2" fill="#2962ff"/>
<rect x="4535.0" y="657" width="15" height="11" fill="#2962ff"/>
<rect x="4561.0" y="631" width="1" height="10" fill="#2962ff"/>
<rect x="4561.0" y="655" width="1" height="4" fill="#2962ff"/>
<rect x="4554.0" y="641" width="15" height="14" fill="#2962ff"/>
<rect x="4573.0" y="627" width="15" height="17" fill="#2962ff"/>
<rect x="4599.0" y="638" width="1" height="4" fill="#e91e63"/>
<rect x="4592.5" y="642.5" width="14" height="3" fill="#e91e63" fill-opacity="0.8" stroke="#e91e63" stroke-width="1"/>
<rect x="4618.0" y="631" width="1" height="7" fill="#2962ff"/>
<rect x="4618.0" y="639" width="1" height="2" fill="#2962ff"/>
<rect x="4611.0" y="638" width="15" height="1" fill="#2962ff"/>
<rect x="4637.0" y="642" width="1" height="8" fill="#2962ff"/>
<rect x="4630.0" y="624" width="15" height="18" fill="#2962ff"/>
<rect x="4657.0" y="631" width="1" height="7" fill="#2962ff"/>
<rect x="4650.0" y="624" width="15" height="7" fill="#2962ff"/>
<rect x="4676.0" y="624" width="1" height="10" fill="#2962ff"/>
<rect x="4669.0" y="589" width="15" height="35" fill="#2962ff"/>
<rect x="4695.0" y="592" width="1" height="4" fill="#2962ff"/>
<rect x="4688.0" y="561" width="15" height="31" fill="#2962ff"/>
<rect x="4707.0" y="537" width="15" height="24" fill="#2962ff"/>
<rect x="4733.0" y="538" width="1" height="1" fill="#2962ff"/>
<rect x="4726.0" y="523" width="15" height="15" fill="#2962ff"/>
<rect x="4752.0" y="512" width="1" height="7" fill="#2962ff"/>
<rect x="4752.0" y="531" width="1" height="2" fill="#2962ff"/>
<rect x="4745.0" y="519" width="15" height="12" fill="#2962ff"/>
<rect x="4771.0" y="585" width="1" height="18" fill="#e91e63"/>
<rect x="4764.5" y="523.5" width="14" height="61" fill="#e91e63" fill-opacity="0.8" stroke="#e91e63" stroke-width="1"/>
<line x1="3088.5" y1="820.5" x2="3088.5" y2="1275" stroke="#3a3a3a" stroke-width="1"/>
<polyline points="3079.2,1266.2 3088.5,1275.4 3097.8,1266.2" fill="none" stroke="#3a3a3a" stroke-width="1.1"/>
<text x="2975.5" y="1323.8" font-size="22.5" fill="#131722" text-anchor="start" textLength="222.6" lengthAdjust="spacingAndGlyphs">−1.22 (−6.10%) −122</text>
<polygon points="3412.5,993.2 3430.9,1014.7 3422.1,1014.7 3422.1,1032.8 3403.1,1032.8 3403.1,1014.7 3394.1,1014.7" fill="#3dd978"/>
<line x1="1804.6" y1="1804" x2="1804.6" y2="1865" stroke="#111" stroke-width="1.8"/>
<circle cx="1804.2" cy="1802.1" r="3.7" fill="#111"/>
</g>
<text x="139.7" y="397.7" font-size="22" fill="#131722" text-anchor="start" textLength="385.4" lengthAdjust="spacingAndGlyphs">Stoke Therapeutics, Inc. · 5 · NASDAQ</text>
<text x="538.8" y="397.7" font-size="22" fill="#131722" text-anchor="start" textLength="15.1" lengthAdjust="spacingAndGlyphs">O</text>
<text x="555.4" y="397.7" font-size="22" fill="#e91e63" text-anchor="start" textLength="55.7" lengthAdjust="spacingAndGlyphs">20.87</text>
<text x="625.1" y="397.7" font-size="22" fill="#131722" text-anchor="start" textLength="13.9" lengthAdjust="spacingAndGlyphs">H</text>
<text x="641.4" y="397.7" font-size="22" fill="#e91e63" text-anchor="start" textLength="55.7" lengthAdjust="spacingAndGlyphs">20.87</text>
<text x="711.4" y="397.7" font-size="22" fill="#131722" text-anchor="start" textLength="9.6" lengthAdjust="spacingAndGlyphs">L</text>
<text x="723.5" y="397.7" font-size="22" fill="#e91e63" text-anchor="start" textLength="56.6" lengthAdjust="spacingAndGlyphs">20.64</text>
<text x="794.6" y="397.7" font-size="22" fill="#131722" text-anchor="start" textLength="14.0" lengthAdjust="spacingAndGlyphs">C</text>
<text x="810.7" y="397.7" font-size="22" fill="#e91e63" text-anchor="start" textLength="56.6" lengthAdjust="spacingAndGlyphs">20.69</text>
<text x="4672.9" y="451.6" font-size="24" fill="#ff9800" text-anchor="middle" textLength="72.0" lengthAdjust="spacingAndGlyphs">ADR%</text>
<text x="4761.0" y="451.6" font-size="24" fill="#ff9800" text-anchor="middle" textLength="75.7" lengthAdjust="spacingAndGlyphs">7.12%</text>
<text x="4672.2" y="494.1" font-size="24" fill="#ff9800" text-anchor="middle" textLength="45.0" lengthAdjust="spacingAndGlyphs">ATR</text>
<text x="4762.2" y="494.1" font-size="24" fill="#ff9800" text-anchor="middle" textLength="50.0" lengthAdjust="spacingAndGlyphs">1.04</text>
<text x="4839.0" y="417.3" font-size="22.5" fill="#131722" text-anchor="start" textLength="58.6" lengthAdjust="spacingAndGlyphs">21.20</text>
<text x="4839.0" y="485.6" font-size="22.5" fill="#131722" text-anchor="start" textLength="58.6" lengthAdjust="spacingAndGlyphs">21.00</text>
<text x="4839.0" y="554.7" font-size="22.5" fill="#131722" text-anchor="start" textLength="58.6" lengthAdjust="spacingAndGlyphs">20.80</text>
<text x="4839.0" y="624.4" font-size="22.5" fill="#131722" text-anchor="start" textLength="58.6" lengthAdjust="spacingAndGlyphs">20.60</text>
<text x="4839.0" y="694.7" font-size="22.5" fill="#131722" text-anchor="start" textLength="58.6" lengthAdjust="spacingAndGlyphs">20.40</text>
<text x="4839.0" y="765.8" font-size="22.5" fill="#131722" text-anchor="start" textLength="58.6" lengthAdjust="spacingAndGlyphs">20.20</text>
<text x="4839.0" y="837.6" font-size="22.5" fill="#131722" text-anchor="start" textLength="58.6" lengthAdjust="spacingAndGlyphs">20.00</text>
<text x="4839.0" y="910.1" font-size="22.5" fill="#131722" text-anchor="start" textLength="58.6" lengthAdjust="spacingAndGlyphs">19.80</text>
<text x="4839.0" y="983.3" font-size="22.5" fill="#131722" text-anchor="start" textLength="58.6" lengthAdjust="spacingAndGlyphs">19.60</text>
<text x="4839.0" y="1057.3" font-size="22.5" fill="#131722" text-anchor="start" textLength="58.6" lengthAdjust="spacingAndGlyphs">19.40</text>
<text x="4839.0" y="1132.1" font-size="22.5" fill="#131722" text-anchor="start" textLength="58.6" lengthAdjust="spacingAndGlyphs">19.20</text>
<text x="4839.0" y="1207.6" font-size="22.5" fill="#131722" text-anchor="start" textLength="58.6" lengthAdjust="spacingAndGlyphs">19.00</text>
<text x="4839.0" y="1283.9" font-size="22.5" fill="#131722" text-anchor="start" textLength="58.6" lengthAdjust="spacingAndGlyphs">18.80</text>
<text x="4839.0" y="1361.1" font-size="22.5" fill="#131722" text-anchor="start" textLength="58.6" lengthAdjust="spacingAndGlyphs">18.60</text>
<text x="4839.0" y="1419.5" font-size="22.5" fill="#131722" text-anchor="start" textLength="58.6" lengthAdjust="spacingAndGlyphs">18.45</text>
<text x="4839.0" y="1478.4" font-size="22.5" fill="#131722" text-anchor="start" textLength="58.6" lengthAdjust="spacingAndGlyphs">18.30</text>
<text x="4839.0" y="1537.7" font-size="22.5" fill="#131722" text-anchor="start" textLength="58.6" lengthAdjust="spacingAndGlyphs">18.15</text>
<text x="4839.0" y="1597.6" font-size="22.5" fill="#131722" text-anchor="start" textLength="58.6" lengthAdjust="spacingAndGlyphs">18.00</text>
<text x="4839.0" y="1658.0" font-size="22.5" fill="#131722" text-anchor="start" textLength="58.6" lengthAdjust="spacingAndGlyphs">17.85</text>
<text x="4839.0" y="1714.8" font-size="22.5" fill="#131722" text-anchor="start" textLength="58.6" lengthAdjust="spacingAndGlyphs">17.71</text>
<text x="4839.0" y="1772.0" font-size="22.5" fill="#131722" text-anchor="start" textLength="58.6" lengthAdjust="spacingAndGlyphs">17.57</text>
<text x="4839.0" y="1829.7" font-size="22.5" fill="#131722" text-anchor="start" textLength="58.6" lengthAdjust="spacingAndGlyphs">17.43</text>
<path d="M4822,540.0 H4905 a3,3 0 0 1 3,3 V567.6 a3,3 0 0 1 -3,3 H4822 z" fill="#9c27b0"/>
<text x="4839.0" y="563.4" font-size="22.5" fill="#fff" text-anchor="start" textLength="58.5" lengthAdjust="spacingAndGlyphs">20.76</text>
<path d="M4822,570.2 H4905 a3,3 0 0 1 3,3 V597.8 a3,3 0 0 1 -3,3 H4822 z" fill="#e91e63"/>
<text x="4839.0" y="593.6" font-size="22.5" fill="#fff" text-anchor="start" textLength="58.5" lengthAdjust="spacingAndGlyphs">20.69</text>
<path d="M4822,1004.0 H4905 a3,3 0 0 1 3,3 V1031.6 a3,3 0 0 1 -3,3 H4822 z" fill="#9c27b0"/>
<text x="4839.0" y="1027.4" font-size="22.5" fill="#fff" text-anchor="start" textLength="58.5" lengthAdjust="spacingAndGlyphs">19.48</text>
<g clip-path="url(#cp)">
<rect x="110.0" y="2263" width="18.0" height="12" fill="#d9d9d9"/>
<rect x="129.0" y="2269" width="19.0" height="6" fill="#d9d9d9"/>
<rect x="149.0" y="2269" width="18.0" height="6" fill="#d9d9d9"/>
<rect x="168.0" y="2264" width="18.0" height="11" fill="#d9d9d9"/>
<rect x="187.0" y="2270" width="18.0" height="5" fill="#d9d9d9"/>
<rect x="206.0" y="2263" width="18.0" height="12" fill="#d9d9d9"/>
<rect x="225.0" y="2265" width="18.0" height="10" fill="#d9d9d9"/>
<rect x="244.0" y="2232" width="18.0" height="43" fill="#2962ff"/>
<rect x="263.0" y="2232" width="19.0" height="43" fill="#2962ff"/>
<rect x="283.0" y="1964" width="18.0" height="311" fill="#f06292"/>
<rect x="302.0" y="2250" width="18.0" height="25" fill="#f06292"/>
<rect x="321.0" y="2257" width="18.0" height="18" fill="#d9d9d9"/>
<rect x="340.0" y="2269" width="18.0" height="6" fill="#d9d9d9"/>
<rect x="359.0" y="2269" width="18.0" height="6" fill="#d9d9d9"/>
<rect x="378.0" y="2265" width="18.0" height="10" fill="#d9d9d9"/>
<rect x="397.0" y="2108" width="19.0" height="167" fill="#6b8ffb"/>
<rect x="417.0" y="2242" width="18.0" height="33" fill="#6b8ffb"/>
<rect x="436.0" y="2167" width="18.0" height="108" fill="#6b8ffb"/>
<rect x="455.0" y="2225" width="18.0" height="50" fill="#6b8ffb"/>
<rect x="474.0" y="2231" width="18.0" height="44" fill="#f06292"/>
<rect x="493.0" y="2232" width="18.0" height="43" fill="#6b8ffb"/>
<rect x="512.0" y="2261" width="18.0" height="14" fill="#d9d9d9"/>
<rect x="531.0" y="2260" width="19.0" height="15" fill="#d9d9d9"/>
<rect x="551.0" y="2248" width="18.0" height="27" fill="#f06292"/>
<rect x="570.0" y="2254" width="18.0" height="21" fill="#d9d9d9"/>
<rect x="589.0" y="2257" width="18.0" height="18" fill="#d9d9d9"/>
<rect x="608.0" y="2254" width="18.0" height="21" fill="#d9d9d9"/>
<rect x="627.0" y="2268" width="18.0" height="7" fill="#d9d9d9"/>
<rect x="646.0" y="2250" width="18.0" height="25" fill="#d9d9d9"/>
<rect x="665.0" y="2249" width="19.0" height="26" fill="#d9d9d9"/>
<rect x="685.0" y="2178" width="18.0" height="97" fill="#2962ff"/>
<rect x="704.0" y="2259" width="18.0" height="16" fill="#d9d9d9"/>
<rect x="723.0" y="2264" width="18.0" height="11" fill="#d9d9d9"/>
<rect x="742.0" y="2250" width="18.0" height="25" fill="#d9d9d9"/>
<rect x="761.0" y="2257" width="18.0" height="18" fill="#d9d9d9"/>
<rect x="780.0" y="2266" width="18.0" height="9" fill="#d9d9d9"/>
<rect x="799.0" y="2260" width="19.0" height="15" fill="#d9d9d9"/>
<rect x="819.0" y="2254" width="18.0" height="21" fill="#d9d9d9"/>
<rect x="838.0" y="2267" width="18.0" height="8" fill="#d9d9d9"/>
<rect x="857.0" y="2263" width="18.0" height="12" fill="#d9d9d9"/>
<rect x="876.0" y="2272" width="18.0" height="3" fill="#ff9800"/>
<rect x="895.0" y="2265" width="18.0" height="10" fill="#d9d9d9"/>
<rect x="914.0" y="2270" width="19.0" height="5" fill="#ff9800"/>
<rect x="934.0" y="2265" width="18.0" height="10" fill="#d9d9d9"/>
<rect x="953.0" y="2263" width="18.0" height="12" fill="#d9d9d9"/>
<rect x="972.0" y="2272" width="18.0" height="3" fill="#ff9800"/>
<rect x="991.0" y="2269" width="18.0" height="6" fill="#ff9800"/>
<rect x="1010.0" y="2272" width="18.0" height="3" fill="#ff9800"/>
<rect x="1029.0" y="2263" width="18.0" height="12" fill="#d9d9d9"/>
<rect x="1048.0" y="2266" width="19.0" height="9" fill="#d9d9d9"/>
<rect x="1068.0" y="2265" width="18.0" height="10" fill="#d9d9d9"/>
<rect x="1087.0" y="2272" width="18.0" height="3" fill="#ff9800"/>
<rect x="1106.0" y="2270" width="18.0" height="5" fill="#ff9800"/>
<rect x="1125.0" y="2267" width="18.0" height="8" fill="#d9d9d9"/>
<rect x="1144.0" y="2271" width="18.0" height="4" fill="#ff9800"/>
<rect x="1163.0" y="2266" width="18.0" height="9" fill="#d9d9d9"/>
<rect x="1182.0" y="2271" width="19.0" height="4" fill="#ff9800"/>
<rect x="1202.0" y="2268" width="18.0" height="7" fill="#d9d9d9"/>
<rect x="1221.0" y="2270" width="18.0" height="5" fill="#ff9800"/>
<rect x="1240.0" y="2270" width="18.0" height="5" fill="#ff9800"/>
<rect x="1259.0" y="2265" width="18.0" height="10" fill="#d9d9d9"/>
<rect x="1278.0" y="2271" width="18.0" height="4" fill="#ff9800"/>
<rect x="1297.0" y="2270" width="18.0" height="5" fill="#d9d9d9"/>
<rect x="1316.0" y="2268" width="19.0" height="7" fill="#d9d9d9"/>
<rect x="1336.0" y="2270" width="18.0" height="5" fill="#d9d9d9"/>
<rect x="1355.0" y="2271" width="18.0" height="4" fill="#ff9800"/>
<rect x="1374.0" y="2271" width="18.0" height="4" fill="#ff9800"/>
<rect x="1393.0" y="2265" width="18.0" height="10" fill="#2962ff"/>
<rect x="1412.0" y="2266" width="18.0" height="9" fill="#d9d9d9"/>
<rect x="1431.0" y="2266" width="18.0" height="9" fill="#d9d9d9"/>
<rect x="1450.0" y="2266" width="19.0" height="9" fill="#d9d9d9"/>
<rect x="1470.0" y="2267" width="18.0" height="8" fill="#d9d9d9"/>
<rect x="1489.0" y="2273" width="18.0" height="2" fill="#ff9800"/>
<rect x="1508.0" y="2267" width="18.0" height="8" fill="#d9d9d9"/>
<rect x="1527.0" y="2272" width="18.0" height="3" fill="#ff9800"/>
<rect x="1546.0" y="2267" width="18.0" height="8" fill="#d9d9d9"/>
<rect x="1565.0" y="2268" width="18.0" height="7" fill="#d9d9d9"/>
<rect x="1584.0" y="2270" width="19.0" height="5" fill="#d9d9d9"/>
<rect x="1604.0" y="2270" width="18.0" height="5" fill="#d9d9d9"/>
<rect x="1623.0" y="2254" width="18.0" height="21" fill="#2962ff"/>
<rect x="1642.0" y="2272" width="18.0" height="3" fill="#d9d9d9"/>
<rect x="1661.0" y="2258" width="18.0" height="17" fill="#f06292"/>
<rect x="1680.0" y="2269" width="18.0" height="6" fill="#d9d9d9"/>
<rect x="1699.0" y="2267" width="18.0" height="8" fill="#6b8ffb"/>
<rect x="1718.0" y="2266" width="19.0" height="9" fill="#f06292"/>
<rect x="1738.0" y="2249" width="18.0" height="26" fill="#2962ff"/>
<rect x="1757.0" y="2239" width="18.0" height="36" fill="#2962ff"/>
<rect x="1776.0" y="2130" width="18.0" height="145" fill="#2962ff"/>
<rect x="1795.0" y="2247" width="18.0" height="28" fill="#f06292"/>
<rect x="1814.0" y="2268" width="18.0" height="7" fill="#d9d9d9"/>
<rect x="1833.0" y="2265" width="18.0" height="10" fill="#d9d9d9"/>
<rect x="1852.0" y="2256" width="19.0" height="19" fill="#f06292"/>
<rect x="1872.0" y="2263" width="18.0" height="12" fill="#f06292"/>
<rect x="1891.0" y="2263" width="18.0" height="12" fill="#6b8ffb"/>
<rect x="1910.0" y="2249" width="18.0" height="26" fill="#f06292"/>
<rect x="1929.0" y="2188" width="18.0" height="87" fill="#2962ff"/>
<rect x="1948.0" y="2258" width="18.0" height="17" fill="#6b8ffb"/>
<rect x="1967.0" y="2270" width="18.0" height="5" fill="#d9d9d9"/>
<rect x="1986.0" y="2269" width="19.0" height="6" fill="#d9d9d9"/>
<rect x="2006.0" y="2264" width="18.0" height="11" fill="#d9d9d9"/>
<rect x="2025.0" y="2259" width="18.0" height="16" fill="#6b8ffb"/>
<rect x="2044.0" y="2258" width="18.0" height="17" fill="#6b8ffb"/>
<rect x="2063.0" y="2269" width="18.0" height="6" fill="#d9d9d9"/>
<rect x="2082.0" y="2248" width="18.0" height="27" fill="#f06292"/>
<rect x="2101.0" y="2265" width="18.0" height="10" fill="#d9d9d9"/>
<rect x="2120.0" y="2256" width="19.0" height="19" fill="#f06292"/>
<rect x="2140.0" y="2270" width="18.0" height="5" fill="#d9d9d9"/>
<rect x="2159.0" y="2245" width="18.0" height="30" fill="#2962ff"/>
<rect x="2178.0" y="2259" width="18.0" height="16" fill="#6b8ffb"/>
<rect x="2197.0" y="2266" width="18.0" height="9" fill="#d9d9d9"/>
<rect x="2216.0" y="2261" width="18.0" height="14" fill="#d9d9d9"/>
<rect x="2235.0" y="2272" width="18.0" height="3" fill="#ff9800"/>
<rect x="2254.0" y="2263" width="19.0" height="12" fill="#d9d9d9"/>
<rect x="2274.0" y="2268" width="18.0" height="7" fill="#d9d9d9"/>
<rect x="2293.0" y="2265" width="18.0" height="10" fill="#d9d9d9"/>
<rect x="2312.0" y="2265" width="18.0" height="10" fill="#d9d9d9"/>
<rect x="2331.0" y="2261" width="18.0" height="14" fill="#2962ff"/>
<rect x="2350.0" y="2264" width="18.0" height="11" fill="#d9d9d9"/>
<rect x="2369.0" y="2255" width="18.0" height="20" fill="#f06292"/>
<rect x="2388.0" y="2258" width="19.0" height="17" fill="#f06292"/>
<rect x="2408.0" y="2257" width="18.0" height="18" fill="#f06292"/>
<rect x="2427.0" y="2251" width="18.0" height="24" fill="#f06292"/>
<rect x="2446.0" y="2270" width="18.0" height="5" fill="#d9d9d9"/>
<rect x="2465.0" y="2271" width="18.0" height="4" fill="#ff9800"/>
<rect x="2484.0" y="2259" width="18.0" height="16" fill="#d9d9d9"/>
<rect x="2503.0" y="2270" width="18.0" height="5" fill="#d9d9d9"/>
<rect x="2522.0" y="2268" width="19.0" height="7" fill="#d9d9d9"/>
<rect x="2542.0" y="2270" width="18.0" height="5" fill="#d9d9d9"/>
<rect x="2561.0" y="2264" width="18.0" height="11" fill="#d9d9d9"/>
<rect x="2580.0" y="2267" width="18.0" height="8" fill="#d9d9d9"/>
<rect x="2599.0" y="2271" width="18.0" height="4" fill="#ff9800"/>
<rect x="2618.0" y="2270" width="18.0" height="5" fill="#d9d9d9"/>
<rect x="2637.0" y="2271" width="18.0" height="4" fill="#ff9800"/>
<rect x="2656.0" y="2272" width="19.0" height="3" fill="#ff9800"/>
<rect x="2676.0" y="2259" width="18.0" height="16" fill="#2962ff"/>
<rect x="2695.0" y="2273" width="18.0" height="2" fill="#ff9800"/>
<rect x="2714.0" y="2266" width="18.0" height="9" fill="#d9d9d9"/>
<rect x="2733.0" y="2269" width="18.0" height="6" fill="#d9d9d9"/>
<rect x="2752.0" y="2268" width="18.0" height="7" fill="#d9d9d9"/>
<rect x="2771.0" y="2270" width="18.0" height="5" fill="#d9d9d9"/>
<rect x="2790.0" y="2264" width="19.0" height="11" fill="#d9d9d9"/>
<rect x="2810.0" y="2269" width="18.0" height="6" fill="#d9d9d9"/>
<rect x="2829.0" y="2270" width="18.0" height="5" fill="#d9d9d9"/>
<rect x="2848.0" y="2270" width="18.0" height="5" fill="#d9d9d9"/>
<rect x="2867.0" y="2268" width="18.0" height="7" fill="#d9d9d9"/>
<rect x="2886.0" y="2262" width="18.0" height="13" fill="#f06292"/>
<rect x="2905.0" y="2271" width="18.0" height="4" fill="#d9d9d9"/>
<rect x="2924.0" y="2271" width="19.0" height="4" fill="#d9d9d9"/>
<rect x="2944.0" y="2264" width="18.0" height="11" fill="#6b8ffb"/>
<rect x="2963.0" y="2267" width="18.0" height="8" fill="#d9d9d9"/>
<rect x="2982.0" y="2267" width="18.0" height="8" fill="#d9d9d9"/>
<rect x="3001.0" y="2272" width="18.0" height="3" fill="#d9d9d9"/>
<rect x="3020.0" y="2263" width="18.0" height="12" fill="#6b8ffb"/>
<rect x="3039.0" y="2261" width="19.0" height="14" fill="#f06292"/>
<rect x="3059.0" y="2269" width="18.0" height="6" fill="#d9d9d9"/>
<rect x="3078.0" y="2269" width="18.0" height="6" fill="#d9d9d9"/>
<rect x="3097.0" y="2261" width="18.0" height="14" fill="#f06292"/>
<rect x="3116.0" y="2272" width="18.0" height="3" fill="#d9d9d9"/>
<rect x="3135.0" y="2267" width="18.0" height="8" fill="#d9d9d9"/>
<rect x="3154.0" y="2264" width="18.0" height="11" fill="#6b8ffb"/>
<rect x="3173.0" y="2260" width="19.0" height="15" fill="#f06292"/>
<rect x="3193.0" y="2258" width="18.0" height="17" fill="#2962ff"/>
<rect x="3212.0" y="2272" width="18.0" height="3" fill="#d9d9d9"/>
<rect x="3231.0" y="2242" width="18.0" height="33" fill="#2962ff"/>
<rect x="3250.0" y="2244" width="18.0" height="31" fill="#2962ff"/>
<rect x="3269.0" y="2189" width="18.0" height="86" fill="#f06292"/>
<rect x="3288.0" y="2246" width="18.0" height="29" fill="#6b8ffb"/>
<rect x="3307.0" y="2268" width="19.0" height="7" fill="#d9d9d9"/>
<rect x="3327.0" y="2270" width="18.0" height="5" fill="#d9d9d9"/>
<rect x="3346.0" y="2274" width="18.0" height="1" fill="#ff9800"/>
<rect x="3365.0" y="2269" width="18.0" height="6" fill="#d9d9d9"/>
<rect x="3384.0" y="2259" width="18.0" height="16" fill="#6b8ffb"/>
<rect x="3403.0" y="2259" width="18.0" height="16" fill="#f06292"/>
<rect x="3422.0" y="2272" width="18.0" height="3" fill="#ff9800"/>
<rect x="3441.0" y="2270" width="19.0" height="5" fill="#d9d9d9"/>
<rect x="3461.0" y="2268" width="18.0" height="7" fill="#d9d9d9"/>
<rect x="3480.0" y="2255" width="18.0" height="20" fill="#2962ff"/>
<rect x="3499.0" y="2254" width="18.0" height="21" fill="#2962ff"/>
<rect x="3518.0" y="2270" width="18.0" height="5" fill="#d9d9d9"/>
<rect x="3537.0" y="2266" width="18.0" height="9" fill="#d9d9d9"/>
<rect x="3556.0" y="2271" width="18.0" height="4" fill="#d9d9d9"/>
<rect x="3575.0" y="2271" width="19.0" height="4" fill="#d9d9d9"/>
<rect x="3595.0" y="2263" width="18.0" height="12" fill="#6b8ffb"/>
<rect x="3614.0" y="2269" width="18.0" height="6" fill="#d9d9d9"/>
<rect x="3633.0" y="2269" width="18.0" height="6" fill="#d9d9d9"/>
<rect x="3652.0" y="2259" width="18.0" height="16" fill="#2962ff"/>
<rect x="3671.0" y="2273" width="18.0" height="2" fill="#ff9800"/>
<rect x="3690.0" y="2271" width="18.0" height="4" fill="#d9d9d9"/>
<rect x="3709.0" y="2265" width="19.0" height="10" fill="#2962ff"/>
<rect x="3729.0" y="2258" width="18.0" height="17" fill="#2962ff"/>
<rect x="3748.0" y="2264" width="18.0" height="11" fill="#2962ff"/>
<rect x="3767.0" y="2267" width="18.0" height="8" fill="#d9d9d9"/>
<rect x="3786.0" y="2259" width="18.0" height="16" fill="#2962ff"/>
<rect x="3805.0" y="2249" width="18.0" height="26" fill="#f06292"/>
<rect x="3824.0" y="2265" width="18.0" height="10" fill="#d9d9d9"/>
<rect x="3843.0" y="2271" width="19.0" height="4" fill="#d9d9d9"/>
<rect x="3863.0" y="2271" width="18.0" height="4" fill="#d9d9d9"/>
<rect x="3882.0" y="2270" width="18.0" height="5" fill="#d9d9d9"/>
<rect x="3901.0" y="2269" width="18.0" height="6" fill="#d9d9d9"/>
<rect x="3920.0" y="2250" width="18.0" height="25" fill="#6b8ffb"/>
<rect x="3939.0" y="2254" width="18.0" height="21" fill="#6b8ffb"/>
<rect x="3958.0" y="2262" width="18.0" height="13" fill="#d9d9d9"/>
<rect x="3977.0" y="2261" width="19.0" height="14" fill="#f06292"/>
<rect x="3997.0" y="2268" width="18.0" height="7" fill="#d9d9d9"/>
<rect x="4016.0" y="2269" width="18.0" height="6" fill="#d9d9d9"/>
<rect x="4035.0" y="2269" width="18.0" height="6" fill="#d9d9d9"/>
<rect x="4054.0" y="2271" width="18.0" height="4" fill="#d9d9d9"/>
<rect x="4073.0" y="2270" width="18.0" height="5" fill="#d9d9d9"/>
<rect x="4092.0" y="2270" width="18.0" height="5" fill="#d9d9d9"/>
<rect x="4111.0" y="2272" width="19.0" height="3" fill="#ff9800"/>
<rect x="4131.0" y="2272" width="18.0" height="3" fill="#d9d9d9"/>
<rect x="4150.0" y="2270" width="18.0" height="5" fill="#d9d9d9"/>
<rect x="4169.0" y="2271" width="18.0" height="4" fill="#d9d9d9"/>
<rect x="4188.0" y="2270" width="18.0" height="5" fill="#d9d9d9"/>
<rect x="4207.0" y="2269" width="18.0" height="6" fill="#2962ff"/>
<rect x="4226.0" y="2267" width="18.0" height="8" fill="#d9d9d9"/>
<rect x="4245.0" y="2268" width="19.0" height="7" fill="#d9d9d9"/>
<rect x="4265.0" y="2270" width="18.0" height="5" fill="#d9d9d9"/>
<rect x="4284.0" y="2270" width="18.0" height="5" fill="#d9d9d9"/>
<rect x="4303.0" y="2270" width="18.0" height="5" fill="#d9d9d9"/>
<rect x="4322.0" y="2270" width="18.0" height="5" fill="#d9d9d9"/>
<rect x="4341.0" y="2272" width="18.0" height="3" fill="#ff9800"/>
<rect x="4360.0" y="2268" width="18.0" height="7" fill="#d9d9d9"/>
<rect x="4379.0" y="2267" width="19.0" height="8" fill="#d9d9d9"/>
<rect x="4399.0" y="2272" width="18.0" height="3" fill="#d9d9d9"/>
<rect x="4418.0" y="2268" width="18.0" height="7" fill="#d9d9d9"/>
<rect x="4437.0" y="2269" width="18.0" height="6" fill="#d9d9d9"/>
<rect x="4456.0" y="2263" width="18.0" height="12" fill="#2962ff"/>
<rect x="4475.0" y="2270" width="18.0" height="5" fill="#d9d9d9"/>
<rect x="4494.0" y="2270" width="18.0" height="5" fill="#d9d9d9"/>
<rect x="4513.0" y="2264" width="19.0" height="11" fill="#2962ff"/>
<rect x="4533.0" y="2271" width="18.0" height="4" fill="#d9d9d9"/>
<rect x="4552.0" y="2266" width="18.0" height="9" fill="#2962ff"/>
<rect x="4571.0" y="2261" width="18.0" height="14" fill="#2962ff"/>
<rect x="4590.0" y="2267" width="18.0" height="8" fill="#d9d9d9"/>
<rect x="4609.0" y="2267" width="18.0" height="8" fill="#2962ff"/>
<rect x="4628.0" y="2266" width="18.0" height="9" fill="#2962ff"/>
<rect x="4647.0" y="2265" width="19.0" height="10" fill="#2962ff"/>
<rect x="4667.0" y="2257" width="18.0" height="18" fill="#2962ff"/>
<rect x="4686.0" y="2259" width="18.0" height="16" fill="#2962ff"/>
<rect x="4705.0" y="2249" width="18.0" height="26" fill="#2962ff"/>
<rect x="4724.0" y="2261" width="18.0" height="14" fill="#2962ff"/>
<rect x="4743.0" y="2223" width="18.0" height="52" fill="#2962ff"/>
<rect x="4762.0" y="2174" width="18.0" height="101" fill="#f06292"/>
</g>
<text x="4838.8" y="1978.9" font-size="22.5" fill="#131722" text-anchor="start" textLength="56.0" lengthAdjust="spacingAndGlyphs">125 K</text>
<text x="4838.8" y="2038.5" font-size="22.5" fill="#131722" text-anchor="start" textLength="56.0" lengthAdjust="spacingAndGlyphs">100 K</text>
<text x="4838.8" y="2099.6" font-size="22.5" fill="#131722" text-anchor="start" textLength="42.0" lengthAdjust="spacingAndGlyphs">75 K</text>
<text x="4838.8" y="2160.3" font-size="22.5" fill="#131722" text-anchor="start" textLength="42.0" lengthAdjust="spacingAndGlyphs">50 K</text>
<text x="4838.8" y="2221.7" font-size="22.5" fill="#131722" text-anchor="start" textLength="42.0" lengthAdjust="spacingAndGlyphs">25 K</text>
<text x="4838.8" y="2282.4" font-size="22.5" fill="#131722" text-anchor="start">0</text>
<path d="M4822,2159.1 H4923 a3,3 0 0 1 3,3 V2187.0 a3,3 0 0 1 -3,3 H4822 z" fill="#e91e63"/>
<text x="4839.0" y="2182.6" font-size="22.5" fill="#fff" text-anchor="start" textLength="77.2" lengthAdjust="spacingAndGlyphs">40.99 K</text>
<path d="M4822,2249.2 H4907.5 a3,3 0 0 1 3,3 V2276.4 a3,3 0 0 1 -3,3 H4822 z" fill="#9c4a4c"/>
<text x="4839.0" y="2272.4" font-size="22.5" fill="#fff" text-anchor="start" textLength="62.7" lengthAdjust="spacingAndGlyphs">4.03 K</text>
<rect x="4638.2" y="1944" width="164.6" height="40.5" fill="#ffebee"/>
<text x="4720.5" y="1972.5" font-size="18" fill="#434651" text-anchor="middle" textLength="141.6" lengthAdjust="spacingAndGlyphs">Avg$Vol: 0.08 M</text>
<rect x="4638.2" y="1990.3" width="164.6" height="40.1" fill="#ffebee"/>
<text x="4720.5" y="2018.6" font-size="18" fill="#434651" text-anchor="middle" textLength="93.5" lengthAdjust="spacingAndGlyphs">RVol: 54 %</text>
<rect x="4638.2" y="2036.3" width="164.6" height="40.4" fill="#ffebee"/>
<text x="4720.5" y="2064.7" font-size="18" fill="#434651" text-anchor="middle" textLength="126.5" lengthAdjust="spacingAndGlyphs">Proj RVol: 0.0x</text>
<text x="196.1" y="2459.5" font-size="22.5" fill="#131722" text-anchor="middle" textLength="59.5" lengthAdjust="spacingAndGlyphs">12:30</text>
<text x="311.1" y="2459.5" font-size="22.5" fill="#131722" text-anchor="middle">3</text>
<text x="426.1" y="2459.5" font-size="22.5" fill="#131722" text-anchor="middle" textLength="59.5" lengthAdjust="spacingAndGlyphs">07:00</text>
<text x="541.1" y="2459.5" font-size="22.5" fill="#131722" text-anchor="middle" textLength="59.5" lengthAdjust="spacingAndGlyphs">07:30</text>
<text x="655.1" y="2459.5" font-size="22.5" fill="#131722" text-anchor="middle" textLength="59.5" lengthAdjust="spacingAndGlyphs">08:00</text>
<text x="770.1" y="2459.5" font-size="22.5" fill="#131722" text-anchor="middle" textLength="59.5" lengthAdjust="spacingAndGlyphs">08:30</text>
<text x="885.1" y="2459.5" font-size="22.5" fill="#131722" text-anchor="middle" textLength="59.5" lengthAdjust="spacingAndGlyphs">09:00</text>
<text x="1000.1" y="2459.5" font-size="22.5" fill="#131722" text-anchor="middle" textLength="59.5" lengthAdjust="spacingAndGlyphs">09:30</text>
<text x="1115.1" y="2459.5" font-size="22.5" fill="#131722" text-anchor="middle" textLength="59.5" lengthAdjust="spacingAndGlyphs">10:00</text>
<text x="1230.1" y="2459.5" font-size="22.5" fill="#131722" text-anchor="middle" textLength="59.5" lengthAdjust="spacingAndGlyphs">10:30</text>
<text x="1345.1" y="2459.5" font-size="22.5" fill="#131722" text-anchor="middle" textLength="59.5" lengthAdjust="spacingAndGlyphs">11:00</text>
<text x="1460.1" y="2459.5" font-size="22.5" fill="#131722" text-anchor="middle" textLength="59.5" lengthAdjust="spacingAndGlyphs">11:30</text>
<text x="1574.1" y="2459.5" font-size="22.5" fill="#131722" text-anchor="middle" textLength="59.5" lengthAdjust="spacingAndGlyphs">12:00</text>
<text x="1689.1" y="2459.5" font-size="22.5" fill="#131722" text-anchor="middle" textLength="59.5" lengthAdjust="spacingAndGlyphs">12:30</text>
<text x="1804.1" y="2459.5" font-size="22.5" fill="#131722" text-anchor="middle">4</text>
<text x="1919.1" y="2459.5" font-size="22.5" fill="#131722" text-anchor="middle" textLength="59.5" lengthAdjust="spacingAndGlyphs">07:00</text>
<text x="2034.1" y="2459.5" font-size="22.5" fill="#131722" text-anchor="middle" textLength="59.5" lengthAdjust="spacingAndGlyphs">07:30</text>
<text x="2149.1" y="2459.5" font-size="22.5" fill="#131722" text-anchor="middle" textLength="59.5" lengthAdjust="spacingAndGlyphs">08:00</text>
<text x="2264.1" y="2459.5" font-size="22.5" fill="#131722" text-anchor="middle" textLength="59.5" lengthAdjust="spacingAndGlyphs">08:30</text>
<text x="2378.1" y="2459.5" font-size="22.5" fill="#131722" text-anchor="middle" textLength="59.5" lengthAdjust="spacingAndGlyphs">09:00</text>
<text x="2493.1" y="2459.5" font-size="22.5" fill="#131722" text-anchor="middle" textLength="59.5" lengthAdjust="spacingAndGlyphs">09:30</text>
<text x="2608.1" y="2459.5" font-size="22.5" fill="#131722" text-anchor="middle" textLength="59.5" lengthAdjust="spacingAndGlyphs">10:00</text>
<text x="2723.1" y="2459.5" font-size="22.5" fill="#131722" text-anchor="middle" textLength="59.5" lengthAdjust="spacingAndGlyphs">10:30</text>
<text x="2838.1" y="2459.5" font-size="22.5" fill="#131722" text-anchor="middle" textLength="59.5" lengthAdjust="spacingAndGlyphs">11:00</text>
<text x="2953.1" y="2459.5" font-size="22.5" fill="#131722" text-anchor="middle" textLength="59.5" lengthAdjust="spacingAndGlyphs">11:30</text>
<text x="3068.1" y="2459.5" font-size="22.5" fill="#131722" text-anchor="middle" textLength="59.5" lengthAdjust="spacingAndGlyphs">12:00</text>
<text x="3183.1" y="2459.5" font-size="22.5" fill="#131722" text-anchor="middle" textLength="59.5" lengthAdjust="spacingAndGlyphs">12:30</text>
<text x="3297.1" y="2459.5" font-size="22.5" fill="#131722" text-anchor="middle">5</text>
<text x="3412.1" y="2459.5" font-size="22.5" fill="#131722" text-anchor="middle" textLength="59.5" lengthAdjust="spacingAndGlyphs">07:00</text>
<text x="3527.1" y="2459.5" font-size="22.5" fill="#131722" text-anchor="middle" textLength="59.5" lengthAdjust="spacingAndGlyphs">07:30</text>
<text x="3642.1" y="2459.5" font-size="22.5" fill="#131722" text-anchor="middle" textLength="59.5" lengthAdjust="spacingAndGlyphs">08:00</text>
<text x="3757.1" y="2459.5" font-size="22.5" fill="#131722" text-anchor="middle" textLength="59.5" lengthAdjust="spacingAndGlyphs">08:30</text>
<text x="3872.1" y="2459.5" font-size="22.5" fill="#131722" text-anchor="middle" textLength="59.5" lengthAdjust="spacingAndGlyphs">09:00</text>
<text x="3987.1" y="2459.5" font-size="22.5" fill="#131722" text-anchor="middle" textLength="59.5" lengthAdjust="spacingAndGlyphs">09:30</text>
<text x="4101.1" y="2459.5" font-size="22.5" fill="#131722" text-anchor="middle" textLength="59.5" lengthAdjust="spacingAndGlyphs">10:00</text>
<text x="4216.1" y="2459.5" font-size="22.5" fill="#131722" text-anchor="middle" textLength="59.5" lengthAdjust="spacingAndGlyphs">10:30</text>
<text x="4331.1" y="2459.5" font-size="22.5" fill="#131722" text-anchor="middle" textLength="59.5" lengthAdjust="spacingAndGlyphs">11:00</text>
<text x="4446.1" y="2459.5" font-size="22.5" fill="#131722" text-anchor="middle" textLength="59.5" lengthAdjust="spacingAndGlyphs">11:30</text>
<text x="4561.1" y="2459.5" font-size="22.5" fill="#131722" text-anchor="middle" textLength="59.5" lengthAdjust="spacingAndGlyphs">12:00</text>
<text x="4676.1" y="2459.5" font-size="22.5" fill="#131722" text-anchor="middle" textLength="59.5" lengthAdjust="spacingAndGlyphs">12:30</text>
<text x="4791.1" y="2459.5" font-size="22.5" fill="#131722" text-anchor="middle" font-weight="bold">8</text>
<circle cx="72.4" cy="2451.7" r="17" fill="#f3f3f3"/>
<text x="72.4" y="2458.0" font-size="19" fill="#555" text-anchor="middle">Z</text>
<circle cx="4884.6" cy="2451.7" r="17" fill="#f3f3f3"/>
<text x="4884.6" y="2458.0" font-size="19" fill="#555" text-anchor="middle">A</text>
<g fill="#131313">
<polygon points="21.4,2516.8 42.9,2516.8 42.9,2543.5 32.3,2543.5 32.3,2527.6 21.4,2527.6"/>
<circle cx="52.4" cy="2521.9" r="5.5"/>
<polygon points="60.7,2516.8 75.2,2516.8 64.7,2543.5 52.8,2543.5"/>
</g>
<text x="88.2" y="2543.5" font-size="37.3" fill="#131313" text-anchor="start" font-weight="bold" textLength="217.8" lengthAdjust="spacingAndGlyphs">TradingView</text>
</svg>
</body></html>
